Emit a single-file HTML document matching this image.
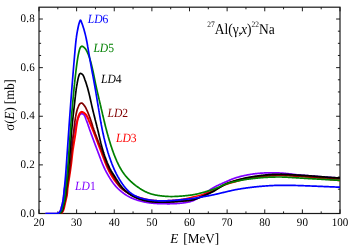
<!DOCTYPE html>
<html><head><meta charset="utf-8"><title>27Al(g,x)22Na cross section</title>
<style>
html,body{margin:0;padding:0;background:#fff;}
body{width:351px;height:249px;overflow:hidden;}
svg{display:block;font-family:"Liberation Serif",serif;will-change:transform;text-rendering:geometricPrecision;}
</style></head>
<body>
<svg width="351" height="249" viewBox="0 0 351 249">

<rect x="39" y="7.2" width="301" height="206.3" fill="none" stroke="#1a1a1a" stroke-width="1.2"/>
<g stroke="#111" stroke-width="0.95" fill="none"><path d="M39.00,213.5 v-4.1 M39.00,7.2 v4.1"/><path d="M57.81,213.5 v-2.1 M57.81,7.2 v2.1"/><path d="M76.62,213.5 v-4.1 M76.62,7.2 v4.1"/><path d="M95.44,213.5 v-2.1 M95.44,7.2 v2.1"/><path d="M114.25,213.5 v-4.1 M114.25,7.2 v4.1"/><path d="M133.06,213.5 v-2.1 M133.06,7.2 v2.1"/><path d="M151.88,213.5 v-4.1 M151.88,7.2 v4.1"/><path d="M170.69,213.5 v-2.1 M170.69,7.2 v2.1"/><path d="M189.50,213.5 v-4.1 M189.50,7.2 v4.1"/><path d="M208.31,213.5 v-2.1 M208.31,7.2 v2.1"/><path d="M227.12,213.5 v-4.1 M227.12,7.2 v4.1"/><path d="M245.94,213.5 v-2.1 M245.94,7.2 v2.1"/><path d="M264.75,213.5 v-4.1 M264.75,7.2 v4.1"/><path d="M283.56,213.5 v-2.1 M283.56,7.2 v2.1"/><path d="M302.38,213.5 v-4.1 M302.38,7.2 v4.1"/><path d="M321.19,213.5 v-2.1 M321.19,7.2 v2.1"/><path d="M340.00,213.5 v-4.1 M340.00,7.2 v4.1"/><path d="M39.0,213.50 h3.9 M340.0,213.50 h-3.9"/><path d="M39.0,201.34 h2.1 M340.0,201.34 h-2.1"/><path d="M39.0,189.19 h2.1 M340.0,189.19 h-2.1"/><path d="M39.0,177.03 h2.1 M340.0,177.03 h-2.1"/><path d="M39.0,164.88 h3.9 M340.0,164.88 h-3.9"/><path d="M39.0,152.72 h2.1 M340.0,152.72 h-2.1"/><path d="M39.0,140.57 h2.1 M340.0,140.57 h-2.1"/><path d="M39.0,128.41 h2.1 M340.0,128.41 h-2.1"/><path d="M39.0,116.26 h3.9 M340.0,116.26 h-3.9"/><path d="M39.0,104.11 h2.1 M340.0,104.11 h-2.1"/><path d="M39.0,91.95 h2.1 M340.0,91.95 h-2.1"/><path d="M39.0,79.79 h2.1 M340.0,79.79 h-2.1"/><path d="M39.0,67.64 h3.9 M340.0,67.64 h-3.9"/><path d="M39.0,55.48 h2.1 M340.0,55.48 h-2.1"/><path d="M39.0,43.33 h2.1 M340.0,43.33 h-2.1"/><path d="M39.0,31.18 h2.1 M340.0,31.18 h-2.1"/><path d="M39.0,19.02 h3.9 M340.0,19.02 h-3.9"/></g>
<clipPath id="c"><rect x="38" y="6" width="302" height="208.05"/></clipPath>
<g fill="none" stroke-width="1.7" stroke-linejoin="round" stroke-linecap="butt" clip-path="url(#c)">
<path d="M45.50,213.60 L46.00,213.60 L46.50,213.60 L47.01,213.60 L47.51,213.60 L48.01,213.60 L48.51,213.60 L49.01,213.60 L49.51,213.60 L50.01,213.60 L50.51,213.60 L51.01,213.60 L51.51,213.60 L52.01,213.60 L52.51,213.60 L53.01,213.60 L53.51,213.60 L54.00,213.60 L54.50,213.60 L55.00,213.60 L55.51,213.59 L56.03,213.55 L56.55,213.49 L57.04,213.41 L57.50,213.32 L57.92,213.19 L58.34,212.96 L58.75,212.64 L59.14,212.26 L59.50,211.84 L59.82,211.41 L60.10,210.98 L60.32,210.57 L60.51,210.14 L60.69,209.68 L60.85,209.20 L60.99,208.71 L61.13,208.21 L61.27,207.71 L61.40,207.22 L61.54,206.74 L61.68,206.26 L61.82,205.78 L61.95,205.30 L62.09,204.81 L62.23,204.33 L62.36,203.85 L62.48,203.36 L62.61,202.87 L62.72,202.39 L62.84,201.90 L62.94,201.41 L63.04,200.92 L63.13,200.43 L63.21,199.94 L63.28,199.45 L63.35,198.96 L63.42,198.46 L63.48,197.97 L63.53,197.47 L63.59,196.98 L63.64,196.48 L63.69,195.98 L63.73,195.48 L63.78,194.98 L63.83,194.48 L63.87,193.98 L63.92,193.48 L63.97,192.98 L64.01,192.49 L64.07,191.99 L64.12,191.49 L64.18,190.99 L64.24,190.50 L64.30,190.00 L64.37,189.51 L64.44,189.01 L64.51,188.52 L64.59,188.02 L64.67,187.53 L64.76,187.04 L64.84,186.55 L64.93,186.05 L65.01,185.56 L65.10,185.07 L65.19,184.58 L65.28,184.08 L65.37,183.59 L65.46,183.10 L65.55,182.61 L65.64,182.11 L65.73,181.62 L65.81,181.13 L65.90,180.64 L65.98,180.14 L66.06,179.65 L66.14,179.16 L66.22,178.66 L66.30,178.17 L66.38,177.67 L66.46,177.18 L66.54,176.69 L66.62,176.19 L66.70,175.70 L66.78,175.21 L66.86,174.71 L66.94,174.22 L67.02,173.73 L67.09,173.23 L67.17,172.74 L67.25,172.24 L67.33,171.75 L67.40,171.25 L67.48,170.76 L67.55,170.27 L67.63,169.77 L67.70,169.28 L67.77,168.78 L67.85,168.29 L67.92,167.79 L67.99,167.30 L68.06,166.80 L68.13,166.31 L68.19,165.81 L68.26,165.32 L68.32,164.82 L68.39,164.33 L68.45,163.83 L68.50,163.33 L68.56,162.84 L68.62,162.34 L68.67,161.84 L68.72,161.34 L68.78,160.84 L68.83,160.35 L68.88,159.85 L68.93,159.35 L68.98,158.85 L69.02,158.35 L69.07,157.85 L69.12,157.35 L69.17,156.86 L69.22,156.36 L69.27,155.86 L69.33,155.36 L69.38,154.87 L69.43,154.37 L69.49,153.87 L69.55,153.38 L69.61,152.88 L69.67,152.38 L69.73,151.89 L69.80,151.40 L69.87,150.90 L69.94,150.41 L70.01,149.92 L70.09,149.43 L70.17,148.94 L70.26,148.45 L70.36,147.96 L70.45,147.47 L70.55,146.98 L70.66,146.49 L70.76,146.00 L70.87,145.52 L70.99,145.03 L71.10,144.54 L71.22,144.06 L71.34,143.57 L71.46,143.08 L71.59,142.60 L71.71,142.11 L71.84,141.63 L71.96,141.14 L72.09,140.66 L72.21,140.17 L72.34,139.69 L72.47,139.20 L72.59,138.72 L72.72,138.23 L72.84,137.74 L72.96,137.26 L73.08,136.77 L73.20,136.29 L73.32,135.80 L73.43,135.31 L73.54,134.82 L73.65,134.33 L73.75,133.85 L73.86,133.35 L73.96,132.86 L74.06,132.37 L74.16,131.88 L74.25,131.39 L74.35,130.90 L74.45,130.41 L74.55,129.91 L74.65,129.42 L74.75,128.93 L74.86,128.44 L74.97,127.96 L75.08,127.47 L75.19,126.98 L75.31,126.50 L75.43,126.02 L75.55,125.53 L75.68,125.06 L75.82,124.58 L75.96,124.10 L76.11,123.62 L76.27,123.15 L76.43,122.67 L76.59,122.20 L76.76,121.73 L76.93,121.25 L77.11,120.78 L77.30,120.32 L77.48,119.85 L77.67,119.39 L77.87,118.93 L78.07,118.47 L78.27,118.01 L78.47,117.56 L78.68,117.09 L78.88,116.60 L79.10,116.11 L79.32,115.62 L79.57,115.18 L79.83,114.78 L80.14,114.45 L80.50,114.18 L80.97,113.92 L81.47,113.74 L81.95,113.71 L82.45,113.82 L82.96,114.02 L83.40,114.26 L83.74,114.51 L84.02,114.81 L84.29,115.16 L84.53,115.55 L84.76,115.99 L84.97,116.45 L85.17,116.95 L85.36,117.45 L85.54,117.97 L85.72,118.50 L85.90,119.02 L86.07,119.53 L86.25,120.02 L86.44,120.49 L86.62,120.96 L86.80,121.42 L86.98,121.89 L87.16,122.36 L87.33,122.83 L87.50,123.30 L87.66,123.77 L87.83,124.24 L87.99,124.71 L88.15,125.19 L88.31,125.66 L88.47,126.14 L88.63,126.61 L88.79,127.08 L88.95,127.56 L89.11,128.03 L89.27,128.51 L89.44,128.98 L89.60,129.45 L89.77,129.92 L89.94,130.39 L90.11,130.86 L90.28,131.33 L90.45,131.80 L90.62,132.27 L90.79,132.74 L90.96,133.21 L91.13,133.68 L91.30,134.15 L91.47,134.62 L91.65,135.09 L91.82,135.56 L91.99,136.03 L92.16,136.50 L92.33,136.97 L92.50,137.44 L92.67,137.91 L92.85,138.38 L93.02,138.85 L93.19,139.32 L93.36,139.79 L93.54,140.26 L93.71,140.73 L93.88,141.20 L94.06,141.67 L94.23,142.13 L94.41,142.60 L94.58,143.07 L94.75,143.54 L94.93,144.01 L95.10,144.48 L95.28,144.95 L95.46,145.41 L95.63,145.88 L95.81,146.35 L95.99,146.82 L96.16,147.28 L96.34,147.75 L96.52,148.22 L96.70,148.69 L96.88,149.15 L97.05,149.62 L97.23,150.09 L97.41,150.55 L97.59,151.02 L97.77,151.49 L97.94,151.96 L98.12,152.43 L98.29,152.90 L98.47,153.37 L98.65,153.83 L98.82,154.30 L99.00,154.77 L99.17,155.24 L99.35,155.71 L99.52,156.18 L99.70,156.65 L99.88,157.12 L100.05,157.59 L100.23,158.06 L100.41,158.53 L100.59,159.00 L100.76,159.47 L100.94,159.93 L101.12,160.40 L101.31,160.87 L101.49,161.33 L101.67,161.80 L101.86,162.26 L102.05,162.73 L102.23,163.19 L102.42,163.65 L102.61,164.12 L102.81,164.58 L103.00,165.04 L103.20,165.50 L103.39,165.95 L103.60,166.41 L103.80,166.87 L104.00,167.32 L104.21,167.77 L104.42,168.22 L104.63,168.67 L104.85,169.12 L105.07,169.57 L105.29,170.02 L105.52,170.46 L105.75,170.90 L105.98,171.35 L106.21,171.79 L106.45,172.23 L106.69,172.66 L106.93,173.10 L107.17,173.54 L107.42,173.97 L107.67,174.41 L107.92,174.84 L108.17,175.27 L108.42,175.71 L108.67,176.14 L108.92,176.57 L109.18,177.00 L109.44,177.43 L109.69,177.86 L109.95,178.29 L110.22,178.71 L110.48,179.14 L110.75,179.56 L111.02,179.98 L111.29,180.40 L111.57,180.81 L111.85,181.23 L112.13,181.64 L112.41,182.05 L112.70,182.46 L113.00,182.86 L113.30,183.26 L113.60,183.66 L113.90,184.05 L114.21,184.44 L114.53,184.83 L114.85,185.21 L115.17,185.59 L115.50,185.97 L115.83,186.34 L116.17,186.71 L116.51,187.08 L116.85,187.44 L117.20,187.79 L117.56,188.15 L117.91,188.50 L118.27,188.84 L118.64,189.18 L119.01,189.52 L119.38,189.86 L119.75,190.19 L120.13,190.52 L120.51,190.85 L120.89,191.17 L121.28,191.49 L121.67,191.81 L122.06,192.13 L122.45,192.44 L122.85,192.75 L123.25,193.05 L123.65,193.35 L124.05,193.65 L124.46,193.95 L124.87,194.23 L125.28,194.52 L125.69,194.80 L126.11,195.07 L126.53,195.34 L126.96,195.60 L127.38,195.86 L127.81,196.11 L128.24,196.35 L128.68,196.59 L129.11,196.82 L129.55,197.05 L130.00,197.27 L130.44,197.48 L130.89,197.70 L131.35,197.90 L131.80,198.10 L132.26,198.30 L132.72,198.49 L133.18,198.68 L133.65,198.86 L134.12,199.04 L134.59,199.22 L135.06,199.39 L135.53,199.56 L136.01,199.72 L136.48,199.88 L136.96,200.04 L137.44,200.19 L137.92,200.34 L138.40,200.49 L138.88,200.63 L139.36,200.76 L139.84,200.90 L140.32,201.03 L140.81,201.16 L141.29,201.28 L141.78,201.40 L142.26,201.52 L142.75,201.64 L143.24,201.75 L143.73,201.86 L144.21,201.96 L144.70,202.07 L145.19,202.17 L145.69,202.26 L146.18,202.35 L146.67,202.44 L147.16,202.53 L147.66,202.61 L148.15,202.68 L148.64,202.76 L149.14,202.83 L149.63,202.89 L150.13,202.95 L150.63,203.01 L151.12,203.07 L151.62,203.12 L152.12,203.17 L152.61,203.22 L153.11,203.27 L153.61,203.31 L154.11,203.35 L154.61,203.39 L155.10,203.43 L155.60,203.46 L156.10,203.49 L156.60,203.52 L157.10,203.55 L157.60,203.58 L158.10,203.60 L158.60,203.62 L159.10,203.64 L159.60,203.66 L160.10,203.67 L160.60,203.69 L161.10,203.70 L161.60,203.71 L162.10,203.72 L162.60,203.73 L163.10,203.74 L163.60,203.74 L164.10,203.75 L164.60,203.76 L165.10,203.76 L165.60,203.77 L166.10,203.77 L166.60,203.77 L167.10,203.78 L167.60,203.78 L168.10,203.78 L168.60,203.78 L169.10,203.78 L169.60,203.78 L170.10,203.77 L170.60,203.77 L171.10,203.76 L171.60,203.75 L172.10,203.74 L172.60,203.72 L173.10,203.71 L173.60,203.69 L174.10,203.67 L174.60,203.65 L175.10,203.62 L175.60,203.59 L176.09,203.56 L176.59,203.53 L177.09,203.50 L177.59,203.46 L178.09,203.42 L178.59,203.38 L179.09,203.34 L179.58,203.30 L180.08,203.25 L180.58,203.20 L181.08,203.15 L181.57,203.10 L182.07,203.04 L182.57,202.98 L183.07,202.92 L183.56,202.86 L184.06,202.79 L184.55,202.72 L185.05,202.64 L185.54,202.57 L186.04,202.49 L186.53,202.40 L187.02,202.32 L187.52,202.23 L188.01,202.13 L188.49,202.03 L188.98,201.92 L189.47,201.81 L189.95,201.69 L190.43,201.56 L190.91,201.42 L191.38,201.28 L191.85,201.13 L192.32,200.97 L192.79,200.80 L193.25,200.62 L193.71,200.43 L194.16,200.23 L194.62,200.03 L195.06,199.81 L195.51,199.59 L195.95,199.36 L196.39,199.13 L196.83,198.88 L197.26,198.64 L197.69,198.38 L198.12,198.13 L198.55,197.87 L198.97,197.60 L199.39,197.33 L199.81,197.06 L200.23,196.78 L200.64,196.50 L201.06,196.22 L201.47,195.94 L201.88,195.66 L202.29,195.37 L202.70,195.08 L203.11,194.79 L203.52,194.50 L203.92,194.21 L204.33,193.92 L204.73,193.62 L205.14,193.33 L205.54,193.03 L205.95,192.74 L206.35,192.45 L206.76,192.15 L207.16,191.86 L207.57,191.56 L207.97,191.27 L208.38,190.98 L208.79,190.69 L209.20,190.41 L209.61,190.12 L210.02,189.84 L210.43,189.56 L210.85,189.28 L211.27,189.01 L211.69,188.74 L212.11,188.48 L212.54,188.22 L212.96,187.96 L213.40,187.71 L213.83,187.47 L214.26,187.22 L214.70,186.99 L215.14,186.75 L215.59,186.52 L216.03,186.30 L216.48,186.07 L216.93,185.85 L217.38,185.64 L217.83,185.42 L218.28,185.21 L218.74,185.00 L219.19,184.79 L219.64,184.58 L220.10,184.37 L220.55,184.16 L221.01,183.95 L221.47,183.75 L221.92,183.54 L222.38,183.34 L222.84,183.13 L223.29,182.93 L223.75,182.73 L224.21,182.52 L224.66,182.32 L225.12,182.12 L225.58,181.92 L226.04,181.71 L226.49,181.51 L226.95,181.31 L227.41,181.11 L227.87,180.90 L228.33,180.70 L228.78,180.50 L229.24,180.30 L229.70,180.10 L230.16,179.91 L230.62,179.71 L231.08,179.52 L231.55,179.33 L232.01,179.15 L232.47,178.96 L232.94,178.79 L233.41,178.61 L233.88,178.44 L234.35,178.28 L234.82,178.11 L235.29,177.95 L235.76,177.80 L236.24,177.65 L236.72,177.50 L237.20,177.36 L237.68,177.22 L238.16,177.08 L238.64,176.95 L239.12,176.81 L239.60,176.69 L240.09,176.56 L240.57,176.44 L241.06,176.32 L241.55,176.20 L242.03,176.08 L242.52,175.97 L243.01,175.85 L243.49,175.74 L243.98,175.64 L244.47,175.53 L244.96,175.43 L245.45,175.32 L245.94,175.22 L246.43,175.12 L246.92,175.03 L247.41,174.93 L247.90,174.84 L248.40,174.75 L248.89,174.66 L249.38,174.57 L249.87,174.48 L250.37,174.40 L250.86,174.32 L251.35,174.24 L251.85,174.17 L252.34,174.09 L252.84,174.02 L253.33,173.95 L253.83,173.89 L254.32,173.82 L254.82,173.76 L255.32,173.70 L255.81,173.64 L256.31,173.59 L256.81,173.54 L257.30,173.49 L257.80,173.44 L258.30,173.39 L258.80,173.34 L259.29,173.30 L259.79,173.26 L260.29,173.22 L260.79,173.18 L261.29,173.14 L261.79,173.11 L262.29,173.07 L262.79,173.04 L263.28,173.01 L263.78,172.99 L264.28,172.96 L264.78,172.94 L265.28,172.92 L265.78,172.90 L266.28,172.88 L266.78,172.86 L267.28,172.85 L267.78,172.84 L268.28,172.82 L268.78,172.81 L269.28,172.81 L269.78,172.80 L270.28,172.79 L270.78,172.79 L271.28,172.78 L271.78,172.78 L272.28,172.78 L272.78,172.78 L273.28,172.79 L273.78,172.79 L274.28,172.80 L274.78,172.81 L275.28,172.82 L275.78,172.83 L276.28,172.84 L276.78,172.86 L277.28,172.87 L277.78,172.89 L278.28,172.91 L278.78,172.93 L279.28,172.95 L279.78,172.98 L280.27,173.00 L280.77,173.03 L281.27,173.06 L281.77,173.10 L282.27,173.13 L282.77,173.17 L283.27,173.21 L283.76,173.25 L284.26,173.30 L284.76,173.34 L285.26,173.39 L285.76,173.44 L286.25,173.49 L286.75,173.55 L287.25,173.60 L287.74,173.66 L288.24,173.71 L288.74,173.77 L289.24,173.83 L289.73,173.89 L290.23,173.95 L290.72,174.01 L291.22,174.07 L291.72,174.13 L292.21,174.19 L292.71,174.25 L293.21,174.31 L293.70,174.38 L294.20,174.44 L294.69,174.50 L295.19,174.56 L295.69,174.61 L296.18,174.67 L296.68,174.73 L297.18,174.78 L297.68,174.83 L298.17,174.88 L298.67,174.93 L299.17,174.98 L299.66,175.02 L300.16,175.07 L300.66,175.11 L301.16,175.15 L301.66,175.19 L302.16,175.23 L302.65,175.27 L303.15,175.31 L303.65,175.35 L304.15,175.39 L304.65,175.42 L305.15,175.46 L305.65,175.50 L306.14,175.54 L306.64,175.57 L307.14,175.61 L307.64,175.65 L308.14,175.69 L308.64,175.72 L309.14,175.76 L309.64,175.80 L310.13,175.84 L310.63,175.88 L311.13,175.92 L311.63,175.96 L312.13,176.00 L312.63,176.05 L313.12,176.09 L313.62,176.13 L314.12,176.17 L314.62,176.22 L315.12,176.26 L315.61,176.31 L316.11,176.35 L316.61,176.39 L317.11,176.44 L317.61,176.48 L318.11,176.53 L318.60,176.57 L319.10,176.61 L319.60,176.66 L320.10,176.70 L320.60,176.74 L321.09,176.78 L321.59,176.82 L322.09,176.86 L322.59,176.90 L323.09,176.94 L323.59,176.98 L324.08,177.02 L324.58,177.06 L325.08,177.09 L325.58,177.13 L326.08,177.17 L326.58,177.20 L327.08,177.24 L327.57,177.27 L328.07,177.31 L328.57,177.34 L329.07,177.37 L329.57,177.40 L330.07,177.44 L330.57,177.47 L331.07,177.50 L331.56,177.53 L332.06,177.56 L332.56,177.59 L333.05,177.62 L333.55,177.65 L334.04,177.68 L334.53,177.71 L335.02,177.74 L335.51,177.77 L336.00,177.79 L336.48,177.82 L336.97,177.85 L337.45,177.87 L337.95,177.90 L338.45,177.92 L338.96,177.95 L339.50,177.98 L340.00,178.00" stroke="#8000ff"/>
<path d="M61.30,213.30 L61.63,212.90 L61.94,212.50 L62.24,212.08 L62.53,211.67 L62.79,211.24 L63.03,210.81 L63.25,210.37 L63.43,209.92 L63.59,209.46 L63.74,208.99 L63.88,208.52 L64.00,208.03 L64.12,207.54 L64.23,207.05 L64.34,206.55 L64.45,206.06 L64.56,205.56 L64.67,205.07 L64.79,204.59 L64.90,204.10 L65.01,203.61 L65.12,203.12 L65.23,202.64 L65.33,202.15 L65.44,201.66 L65.54,201.17 L65.65,200.68 L65.76,200.19 L65.87,199.70 L65.98,199.22 L66.10,198.73 L66.22,198.24 L66.34,197.76 L66.46,197.27 L66.57,196.78 L66.67,196.29 L66.77,195.80 L66.85,195.31 L66.92,194.82 L66.99,194.33 L67.05,193.83 L67.10,193.33 L67.15,192.84 L67.20,192.34 L67.24,191.84 L67.28,191.34 L67.32,190.84 L67.37,190.34 L67.41,189.84 L67.46,189.34 L67.51,188.85 L67.56,188.35 L67.62,187.85 L67.68,187.36 L67.75,186.86 L67.81,186.37 L67.88,185.87 L67.96,185.38 L68.03,184.88 L68.11,184.39 L68.19,183.89 L68.27,183.40 L68.35,182.91 L68.42,182.41 L68.50,181.92 L68.58,181.42 L68.66,180.93 L68.73,180.44 L68.81,179.94 L68.88,179.45 L68.96,178.95 L69.03,178.46 L69.10,177.96 L69.18,177.47 L69.25,176.97 L69.33,176.48 L69.40,175.99 L69.48,175.49 L69.55,175.00 L69.63,174.50 L69.70,174.01 L69.78,173.51 L69.85,173.02 L69.93,172.52 L70.00,172.03 L70.07,171.54 L70.15,171.04 L70.22,170.55 L70.29,170.05 L70.37,169.56 L70.44,169.06 L70.51,168.57 L70.58,168.07 L70.65,167.58 L70.72,167.08 L70.79,166.59 L70.85,166.09 L70.92,165.60 L70.99,165.10 L71.05,164.60 L71.12,164.11 L71.18,163.61 L71.24,163.12 L71.30,162.62 L71.36,162.12 L71.42,161.63 L71.48,161.13 L71.53,160.63 L71.59,160.14 L71.65,159.64 L71.71,159.14 L71.76,158.65 L71.82,158.15 L71.87,157.65 L71.93,157.16 L71.99,156.66 L72.04,156.16 L72.10,155.66 L72.16,155.17 L72.21,154.67 L72.27,154.17 L72.33,153.68 L72.39,153.18 L72.45,152.69 L72.51,152.19 L72.58,151.69 L72.64,151.20 L72.71,150.70 L72.77,150.21 L72.84,149.71 L72.91,149.22 L72.98,148.72 L73.05,148.23 L73.13,147.73 L73.20,147.24 L73.28,146.75 L73.35,146.25 L73.43,145.76 L73.51,145.26 L73.59,144.77 L73.67,144.28 L73.75,143.78 L73.83,143.29 L73.91,142.80 L74.00,142.30 L74.08,141.81 L74.16,141.32 L74.24,140.82 L74.33,140.33 L74.41,139.84 L74.49,139.34 L74.57,138.85 L74.66,138.36 L74.74,137.86 L74.82,137.37 L74.90,136.88 L74.98,136.38 L75.06,135.89 L75.14,135.39 L75.22,134.90 L75.29,134.41 L75.37,133.91 L75.44,133.42 L75.51,132.92 L75.58,132.42 L75.65,131.93 L75.71,131.43 L75.78,130.93 L75.85,130.44 L75.91,129.94 L75.98,129.44 L76.05,128.94 L76.11,128.45 L76.18,127.95 L76.25,127.45 L76.32,126.96 L76.39,126.46 L76.46,125.97 L76.53,125.47 L76.61,124.98 L76.68,124.48 L76.76,123.99 L76.84,123.50 L76.92,123.00 L77.01,122.51 L77.10,122.02 L77.19,121.53 L77.28,121.05 L77.38,120.56 L77.48,120.07 L77.59,119.59 L77.70,119.10 L77.82,118.61 L77.95,118.12 L78.09,117.63 L78.23,117.15 L78.38,116.67 L78.54,116.20 L78.71,115.73 L78.89,115.27 L79.08,114.81 L79.29,114.34 L79.53,113.88 L79.79,113.43 L80.08,113.04 L80.40,112.71 L80.80,112.37 L81.26,112.08 L81.73,111.92 L82.18,111.93 L82.65,112.10 L83.11,112.36 L83.56,112.64 L83.97,112.91 L84.38,113.20 L84.78,113.52 L85.16,113.87 L85.52,114.23 L85.84,114.60 L86.14,114.98 L86.41,115.38 L86.67,115.79 L86.92,116.21 L87.15,116.65 L87.38,117.09 L87.60,117.55 L87.81,118.01 L88.02,118.48 L88.22,118.95 L88.42,119.42 L88.62,119.89 L88.82,120.36 L89.03,120.82 L89.23,121.27 L89.44,121.73 L89.65,122.19 L89.85,122.64 L90.05,123.10 L90.25,123.56 L90.44,124.02 L90.64,124.48 L90.83,124.94 L91.03,125.40 L91.22,125.86 L91.41,126.33 L91.60,126.79 L91.79,127.25 L91.98,127.72 L92.16,128.18 L92.35,128.64 L92.54,129.11 L92.73,129.57 L92.91,130.03 L93.10,130.50 L93.29,130.96 L93.47,131.43 L93.66,131.89 L93.84,132.35 L94.02,132.82 L94.21,133.29 L94.39,133.75 L94.57,134.22 L94.75,134.68 L94.93,135.15 L95.11,135.62 L95.29,136.08 L95.47,136.55 L95.65,137.02 L95.83,137.48 L96.01,137.95 L96.18,138.42 L96.36,138.88 L96.54,139.35 L96.72,139.82 L96.89,140.29 L97.07,140.75 L97.25,141.22 L97.43,141.69 L97.60,142.16 L97.78,142.63 L97.96,143.09 L98.13,143.56 L98.31,144.03 L98.49,144.50 L98.67,144.96 L98.84,145.43 L99.02,145.90 L99.20,146.37 L99.38,146.83 L99.56,147.30 L99.74,147.77 L99.92,148.23 L100.10,148.70 L100.28,149.17 L100.46,149.63 L100.64,150.10 L100.81,150.57 L100.99,151.03 L101.17,151.50 L101.35,151.97 L101.53,152.44 L101.70,152.91 L101.88,153.38 L102.05,153.85 L102.23,154.32 L102.40,154.79 L102.58,155.26 L102.75,155.73 L102.93,156.20 L103.10,156.67 L103.28,157.14 L103.45,157.61 L103.63,158.07 L103.80,158.54 L103.98,159.01 L104.16,159.48 L104.34,159.95 L104.51,160.42 L104.69,160.89 L104.87,161.35 L105.06,161.82 L105.24,162.28 L105.42,162.75 L105.61,163.21 L105.79,163.68 L105.98,164.14 L106.17,164.60 L106.36,165.06 L106.55,165.52 L106.75,165.98 L106.94,166.44 L107.14,166.90 L107.35,167.35 L107.55,167.81 L107.76,168.26 L107.97,168.71 L108.18,169.16 L108.39,169.61 L108.61,170.06 L108.84,170.51 L109.06,170.95 L109.29,171.40 L109.52,171.84 L109.76,172.28 L109.99,172.72 L110.23,173.15 L110.48,173.59 L110.72,174.03 L110.97,174.46 L111.22,174.89 L111.47,175.33 L111.73,175.76 L111.99,176.18 L112.25,176.61 L112.51,177.04 L112.78,177.46 L113.05,177.88 L113.32,178.30 L113.60,178.71 L113.88,179.12 L114.17,179.53 L114.46,179.94 L114.76,180.35 L115.05,180.75 L115.36,181.15 L115.66,181.54 L115.98,181.94 L116.29,182.33 L116.61,182.71 L116.93,183.10 L117.26,183.47 L117.59,183.85 L117.92,184.22 L118.26,184.59 L118.60,184.96 L118.95,185.32 L119.29,185.67 L119.64,186.03 L120.00,186.38 L120.36,186.72 L120.72,187.07 L121.09,187.41 L121.45,187.75 L121.83,188.08 L122.20,188.41 L122.58,188.74 L122.97,189.06 L123.36,189.38 L123.75,189.70 L124.14,190.02 L124.54,190.32 L124.94,190.63 L125.34,190.93 L125.75,191.22 L126.16,191.51 L126.57,191.79 L126.99,192.07 L127.41,192.34 L127.83,192.61 L128.25,192.86 L128.68,193.12" stroke="#ff0000" stroke-width="2.1"/>
<path d="M128.25,192.86 L128.68,193.12 L129.12,193.36 L129.55,193.60 L129.99,193.83 L130.43,194.05 L130.88,194.27 L131.33,194.48 L131.78,194.68 L132.23,194.88 L132.69,195.08 L133.15,195.26 L133.62,195.45 L134.08,195.63 L134.55,195.80 L135.02,195.97 L135.49,196.14 L135.97,196.31 L136.44,196.47 L136.92,196.63 L137.39,196.79 L137.87,196.94 L138.35,197.09 L138.82,197.24 L139.30,197.39 L139.78,197.53 L140.26,197.67 L140.74,197.81 L141.22,197.95 L141.71,198.08 L142.19,198.22 L142.67,198.35 L143.16,198.47 L143.64,198.60 L144.13,198.72 L144.61,198.84 L145.10,198.96 L145.58,199.07 L146.07,199.18 L146.56,199.28 L147.05,199.39 L147.54,199.49 L148.03,199.58 L148.52,199.67 L149.01,199.76 L149.50,199.84 L150.00,199.92 L150.49,199.99 L150.99,200.06 L151.48,200.12 L151.98,200.19 L152.47,200.25 L152.97,200.30 L153.47,200.35 L153.96,200.40 L154.46,200.45 L154.96,200.49 L155.46,200.53 L155.96,200.57 L156.46,200.60 L156.95,200.63 L157.45,200.66 L157.95,200.68 L158.45,200.70 L158.95,200.72 L159.45,200.73 L159.95,200.74 L160.45,200.75 L160.95,200.75 L161.45,200.75 L161.95,200.75 L162.45,200.75 L162.95,200.74 L163.45,200.74 L163.95,200.73 L164.45,200.72 L164.95,200.71 L165.45,200.69 L165.95,200.68 L166.45,200.66 L166.95,200.65 L167.45,200.63 L167.95,200.61 L168.45,200.59 L168.95,200.57 L169.45,200.54 L169.95,200.52 L170.45,200.49 L170.95,200.46 L171.44,200.43 L171.94,200.40 L172.44,200.36 L172.94,200.33 L173.44,200.29 L173.94,200.24 L174.43,200.20 L174.93,200.15 L175.43,200.11 L175.93,200.05 L176.42,200.00 L176.92,199.95 L177.42,199.89 L177.92,199.84 L178.41,199.78 L178.91,199.72 L179.41,199.66 L179.90,199.59 L180.40,199.53 L180.89,199.46 L181.39,199.40 L181.88,199.32 L182.38,199.25 L182.87,199.18 L183.36,199.10 L183.86,199.02 L184.35,198.93 L184.84,198.84 L185.33,198.75 L185.82,198.65 L186.31,198.55 L186.80,198.45 L187.29,198.35 L187.77,198.24 L188.26,198.12 L188.75,198.01 L189.24,197.90 L189.72,197.78 L190.21,197.66 L190.69,197.54 L191.18,197.43 L191.67,197.31 L192.15,197.19 L192.64,197.07 L193.13,196.96 L193.61,196.84 L194.10,196.73 L194.59,196.61 L195.07,196.49 L195.56,196.38 L196.05,196.26 L196.53,196.14 L197.02,196.02 L197.50,195.90 L197.99,195.78 L198.47,195.65 L198.95,195.52 L199.43,195.39 L199.92,195.26 L200.40,195.13 L200.88,194.99 L201.36,194.85 L201.83,194.70 L202.31,194.56 L202.79,194.41 L203.27,194.26 L203.74,194.10 L204.22,193.94 L204.69,193.78 L205.16,193.62 L205.64,193.46 L206.11,193.29 L206.58,193.12 L207.05,192.95 L207.52,192.77 L207.99,192.60 L208.46,192.42 L208.92,192.23 L209.39,192.05 L209.85,191.86 L210.31,191.68 L210.78,191.48 L211.24,191.29 L211.69,191.09 L212.15,190.89 L212.61,190.69 L213.06,190.48 L213.51,190.27 L213.97,190.06 L214.42,189.84 L214.87,189.63 L215.31,189.40 L215.76,189.18 L216.21,188.96 L216.65,188.73 L217.10,188.51 L217.55,188.28 L217.99,188.06 L218.44,187.83 L218.89,187.61 L219.34,187.39 L219.79,187.17 L220.24,186.96 L220.69,186.75 L221.15,186.54 L221.60,186.33 L222.06,186.13 L222.52,185.93 L222.98,185.73 L223.44,185.54 L223.90,185.35 L224.36,185.16 L224.83,184.98 L225.30,184.81 L225.76,184.63 L226.23,184.47 L226.71,184.30 L227.18,184.14 L227.65,183.99 L228.13,183.84 L228.61,183.69 L229.08,183.55 L229.56,183.40 L230.04,183.27 L230.52,183.13 L231.00,182.99 L231.49,182.86 L231.97,182.73 L232.45,182.60 L232.93,182.46 L233.42,182.33 L233.90,182.20 L234.38,182.06 L234.86,181.93 L235.34,181.79 L235.83,181.66 L236.31,181.52 L236.79,181.38 L237.27,181.25 L237.75,181.11 L238.23,180.97 L238.71,180.83 L239.20,180.70 L239.68,180.56 L240.16,180.43 L240.64,180.30 L241.12,180.17 L241.61,180.04 L242.09,179.92 L242.57,179.80 L243.06,179.68 L243.55,179.56 L244.03,179.45 L244.52,179.34 L245.01,179.23 L245.49,179.12 L245.98,179.02 L246.47,178.91 L246.96,178.81 L247.45,178.71 L247.94,178.62 L248.43,178.52 L248.92,178.43 L249.41,178.34 L249.91,178.25 L250.40,178.16 L250.89,178.08 L251.39,177.99 L251.88,177.91 L252.37,177.83 L252.87,177.75 L253.36,177.67 L253.85,177.59 L254.35,177.52 L254.84,177.44 L255.34,177.37 L255.83,177.30 L256.33,177.23 L256.82,177.16 L257.32,177.09 L257.81,177.02 L258.31,176.96 L258.81,176.89 L259.30,176.83 L259.80,176.77 L260.29,176.71 L260.79,176.65 L261.29,176.59 L261.79,176.54 L262.28,176.49 L262.78,176.43 L263.28,176.38 L263.77,176.34 L264.27,176.29 L264.77,176.25 L265.27,176.20 L265.77,176.16 L266.26,176.12 L266.76,176.08 L267.26,176.04 L267.76,176.01 L268.26,175.97 L268.76,175.94 L269.26,175.90 L269.76,175.87 L270.26,175.84 L270.75,175.81 L271.25,175.79 L271.75,175.76 L272.25,175.74 L272.75,175.72 L273.25,175.70 L273.75,175.68 L274.25,175.67 L274.75,175.65 L275.25,175.64 L275.75,175.63 L276.25,175.63 L276.75,175.62 L277.25,175.62 L277.75,175.61 L278.25,175.61 L278.75,175.61 L279.25,175.60 L279.75,175.60 L280.25,175.60 L280.75,175.60 L281.25,175.60 L281.75,175.61 L282.25,175.61 L282.75,175.61 L283.25,175.61 L283.75,175.62 L284.25,175.63 L284.75,175.64 L285.25,175.65 L285.75,175.66 L286.25,175.67 L286.75,175.69 L287.25,175.71 L287.75,175.73 L288.24,175.75 L288.74,175.78 L289.24,175.81 L289.74,175.84 L290.24,175.87 L290.74,175.91 L291.24,175.94 L291.74,175.98 L292.24,176.02 L292.73,176.06 L293.23,176.10 L293.73,176.13 L294.23,176.17 L294.73,176.21 L295.23,176.25 L295.73,176.29 L296.23,176.32 L296.73,176.36 L297.22,176.40 L297.72,176.43 L298.22,176.46 L298.72,176.50 L299.22,176.53 L299.72,176.56 L300.22,176.59 L300.72,176.62 L301.22,176.65 L301.72,176.68 L302.22,176.71 L302.72,176.74 L303.21,176.78 L303.71,176.81 L304.21,176.84 L304.71,176.87 L305.21,176.90 L305.71,176.93 L306.21,176.96 L306.71,177.00 L307.21,177.03 L307.70,177.07 L308.20,177.10 L308.70,177.14 L309.20,177.18 L309.70,177.22 L310.20,177.26 L310.69,177.30 L311.19,177.35 L311.69,177.39 L312.19,177.44 L312.68,177.49 L313.18,177.54 L313.68,177.59 L314.17,177.65 L314.67,177.70 L315.17,177.76 L315.66,177.82 L316.16,177.88 L316.66,177.94 L317.15,178.00 L317.65,178.06 L318.15,178.12 L318.64,178.18 L319.14,178.25 L319.63,178.31 L320.13,178.37 L320.63,178.44 L321.12,178.50 L321.62,178.57 L322.11,178.63 L322.61,178.69 L323.11,178.75 L323.60,178.82 L324.10,178.88 L324.60,178.94 L325.09,179.00 L325.59,179.06 L326.09,179.12 L326.58,179.18 L327.08,179.24 L327.58,179.30 L328.07,179.35 L328.57,179.41 L329.06,179.47 L329.56,179.53 L330.06,179.58 L330.55,179.64 L331.05,179.70 L331.55,179.75 L332.04,179.81 L332.54,179.87 L333.03,179.92 L333.52,179.98 L334.01,180.03 L334.50,180.09 L334.99,180.14 L335.47,180.20 L335.95,180.25 L336.43,180.31 L336.91,180.36 L337.39,180.41 L337.88,180.47 L338.37,180.52 L338.87,180.58 L339.39,180.63 L339.93,180.69 L340.00,180.70" stroke="#ff0000" stroke-width="1.5"/>
<path d="M60.80,213.30 L61.13,212.90 L61.44,212.50 L61.74,212.08 L62.03,211.67 L62.29,211.24 L62.53,210.81 L62.75,210.37 L62.93,209.92 L63.09,209.46 L63.24,208.99 L63.38,208.52 L63.50,208.03 L63.62,207.54 L63.73,207.05 L63.84,206.55 L63.95,206.06 L64.06,205.56 L64.17,205.07 L64.28,204.59 L64.40,204.10 L64.51,203.61 L64.61,203.12 L64.72,202.63 L64.83,202.15 L64.93,201.66 L65.04,201.17 L65.15,200.68 L65.26,200.19 L65.37,199.70 L65.49,199.22 L65.62,198.73 L65.75,198.25 L65.88,197.77 L66.01,197.28 L66.14,196.80 L66.25,196.31 L66.36,195.82 L66.45,195.33 L66.52,194.84 L66.59,194.35 L66.65,193.85 L66.70,193.36 L66.75,192.86 L66.80,192.36 L66.84,191.86 L66.88,191.36 L66.92,190.86 L66.97,190.37 L67.01,189.87 L67.06,189.37 L67.10,188.87 L67.16,188.37 L67.22,187.87 L67.28,187.38 L67.34,186.88 L67.41,186.39 L67.49,185.89 L67.56,185.40 L67.64,184.91 L67.72,184.41 L67.79,183.92 L67.87,183.42 L67.95,182.93 L68.03,182.44 L68.11,181.94 L68.19,181.45 L68.26,180.95 L68.34,180.46 L68.41,179.96 L68.47,179.47 L68.54,178.97 L68.61,178.48 L68.68,177.98 L68.75,177.49 L68.81,176.99 L68.88,176.50 L68.95,176.00 L69.01,175.50 L69.08,175.01 L69.15,174.51 L69.21,174.02 L69.28,173.52 L69.34,173.03 L69.40,172.53 L69.47,172.03 L69.53,171.54 L69.59,171.04 L69.66,170.55 L69.72,170.05 L69.78,169.55 L69.84,169.06 L69.90,168.56 L69.96,168.06 L70.01,167.57 L70.07,167.07 L70.13,166.57 L70.18,166.08 L70.24,165.58 L70.29,165.08 L70.34,164.59 L70.40,164.09 L70.45,163.59 L70.50,163.09 L70.55,162.60 L70.59,162.10 L70.64,161.60 L70.69,161.10 L70.74,160.61 L70.78,160.11 L70.83,159.61 L70.87,159.11 L70.92,158.61 L70.96,158.12 L71.00,157.62 L71.05,157.12 L71.09,156.62 L71.14,156.12 L71.18,155.62 L71.22,155.13 L71.27,154.63 L71.31,154.13 L71.36,153.63 L71.40,153.13 L71.45,152.64 L71.49,152.14 L71.54,151.64 L71.59,151.14 L71.64,150.65 L71.69,150.15 L71.73,149.65 L71.78,149.15 L71.83,148.66 L71.89,148.16 L71.94,147.66 L71.99,147.16 L72.04,146.67 L72.09,146.17 L72.14,145.67 L72.19,145.17 L72.24,144.68 L72.30,144.18 L72.35,143.68 L72.40,143.18 L72.45,142.69 L72.51,142.19 L72.56,141.69 L72.62,141.20 L72.67,140.70 L72.72,140.20 L72.78,139.70 L72.83,139.21 L72.89,138.71 L72.94,138.21 L73.00,137.72 L73.05,137.22 L73.11,136.72 L73.16,136.23 L73.22,135.73 L73.27,135.23 L73.33,134.74 L73.39,134.24 L73.44,133.74 L73.50,133.24 L73.55,132.75 L73.60,132.25 L73.66,131.75 L73.71,131.25 L73.77,130.76 L73.82,130.26 L73.88,129.76 L73.93,129.26 L73.99,128.77 L74.04,128.27 L74.10,127.77 L74.15,127.28 L74.21,126.78 L74.27,126.28 L74.33,125.79 L74.39,125.29 L74.45,124.79 L74.51,124.30 L74.57,123.80 L74.64,123.30 L74.70,122.81 L74.77,122.31 L74.84,121.82 L74.91,121.32 L74.98,120.83 L75.05,120.34 L75.12,119.84 L75.20,119.35 L75.28,118.86 L75.36,118.36 L75.44,117.87 L75.52,117.37 L75.61,116.88 L75.69,116.38 L75.79,115.89 L75.88,115.40 L75.97,114.91 L76.07,114.42 L76.17,113.93 L76.28,113.44 L76.38,112.95 L76.50,112.46 L76.61,111.98 L76.73,111.49 L76.85,111.01 L76.98,110.53 L77.11,110.05 L77.26,109.57 L77.41,109.09 L77.57,108.61 L77.74,108.14 L77.91,107.67 L78.09,107.20 L78.28,106.74 L78.48,106.28 L78.68,105.79 L78.89,105.31 L79.12,104.85 L79.38,104.42 L79.66,104.05 L79.99,103.72 L80.43,103.39 L80.90,103.13 L81.35,103.00 L81.76,103.06 L82.16,103.24 L82.56,103.52 L82.95,103.89 L83.33,104.30 L83.70,104.74 L84.04,105.19 L84.36,105.61 L84.65,106.00 L84.93,106.40 L85.19,106.82 L85.44,107.25 L85.69,107.70 L85.92,108.15 L86.14,108.61 L86.36,109.07 L86.58,109.52 L86.79,109.98 L87.00,110.43 L87.21,110.88 L87.41,111.34 L87.60,111.80 L87.80,112.26 L87.99,112.72 L88.18,113.18 L88.36,113.65 L88.55,114.11 L88.73,114.58 L88.91,115.05 L89.08,115.52 L89.26,115.99 L89.43,116.46 L89.61,116.93 L89.78,117.40 L89.95,117.87 L90.12,118.34 L90.29,118.81 L90.46,119.28 L90.62,119.75 L90.78,120.22 L90.94,120.70 L91.10,121.17 L91.26,121.65 L91.41,122.12 L91.57,122.60 L91.72,123.07 L91.87,123.55 L92.03,124.03 L92.18,124.50 L92.33,124.98 L92.48,125.45 L92.64,125.93 L92.79,126.41 L92.95,126.88 L93.10,127.36 L93.26,127.83 L93.42,128.31 L93.58,128.78 L93.74,129.25 L93.90,129.73 L94.07,130.20 L94.24,130.67 L94.41,131.14 L94.57,131.61 L94.74,132.08 L94.92,132.55 L95.09,133.02 L95.26,133.49 L95.43,133.96 L95.61,134.42 L95.78,134.89 L95.96,135.36 L96.13,135.83 L96.31,136.30 L96.49,136.76 L96.67,137.23 L96.84,137.70 L97.02,138.17 L97.20,138.63 L97.38,139.10 L97.56,139.57 L97.74,140.03 L97.92,140.50 L98.10,140.97 L98.28,141.43 L98.46,141.90 L98.64,142.36 L98.82,142.83 L99.01,143.30 L99.19,143.76 L99.37,144.23 L99.55,144.70 L99.73,145.16 L99.91,145.63 L100.09,146.09 L100.27,146.56 L100.45,147.03 L100.63,147.49 L100.81,147.96 L100.99,148.43 L101.17,148.90 L101.35,149.36 L101.52,149.83 L101.70,150.30 L101.87,150.77 L102.05,151.24 L102.22,151.71 L102.39,152.18 L102.56,152.66 L102.73,153.13 L102.90,153.60 L103.07,154.08 L103.24,154.55 L103.41,155.02 L103.58,155.50 L103.74,155.97 L103.91,156.45 L104.08,156.92 L104.25,157.40 L104.41,157.87 L104.58,158.35 L104.75,158.82 L104.92,159.30 L105.09,159.77 L105.26,160.24 L105.43,160.71 L105.61,161.18 L105.78,161.65 L105.96,162.12 L106.14,162.59 L106.32,163.06 L106.50,163.52 L106.68,163.99 L106.87,164.45 L107.06,164.91 L107.25,165.37 L107.44,165.83 L107.64,166.28 L107.84,166.73 L108.04,167.19 L108.25,167.63 L108.47,168.08 L108.68,168.52 L108.91,168.97 L109.13,169.40 L109.37,169.84 L109.60,170.27 L109.85,170.70 L110.10,171.13 L110.35,171.56 L110.61,171.98 L110.88,172.40 L111.14,172.82 L111.41,173.24 L111.69,173.66 L111.96,174.08 L112.24,174.50 L112.51,174.92 L112.79,175.33 L113.06,175.75 L113.33,176.18 L113.60,176.60 L113.86,177.03 L114.12,177.46 L114.37,177.89 L114.62,178.32 L114.87,178.76 L115.11,179.20 L115.35,179.63 L115.59,180.07 L115.82,180.51 L116.06,180.95 L116.30,181.39 L116.54,181.83 L116.79,182.26 L117.04,182.69 L117.29,183.12 L117.55,183.54 L117.82,183.96 L118.10,184.37 L118.39,184.77 L118.68,185.17 L118.98,185.57 L119.29,185.95 L119.61,186.34 L119.94,186.71 L120.27,187.08 L120.61,187.44 L120.96,187.79 L121.31,188.14 L121.67,188.48 L122.04,188.82 L122.41,189.14 L122.79,189.46 L123.18,189.78 L123.57,190.09 L123.96,190.39 L124.36,190.69 L124.76,190.98 L125.17,191.27 L125.59,191.55 L126.00,191.83 L126.42,192.10 L126.84,192.37 L127.27,192.64 L127.70,192.91 L128.12,193.17 L128.56,193.42 L128.99,193.68 L129.42,193.93 L129.86,194.18 L130.29,194.43 L130.73,194.68 L131.17,194.92 L131.61,195.17 L132.05,195.41 L132.49,195.64 L132.94,195.88 L133.38,196.11 L133.83,196.34 L134.28,196.57 L134.73,196.79 L135.18,197.01 L135.63,197.22 L136.09,197.43 L136.54,197.64 L137.00,197.84 L137.46,198.03 L137.92,198.22 L138.38,198.40 L138.85,198.58 L139.31,198.75 L139.78,198.92 L140.25,199.08 L140.73,199.23 L141.20,199.39 L141.68,199.53 L142.15,199.67 L142.63,199.81 L143.11,199.94 L143.60,200.07 L144.08,200.20 L144.57,200.32 L145.06,200.43 L145.54,200.54 L146.03,200.65 L146.52,200.75 L147.01,200.84 L147.51,200.94 L148.00,201.02 L148.49,201.10 L148.99,201.18 L149.48,201.26 L149.98,201.32 L150.47,201.39 L150.97,201.45 L151.46,201.51 L151.96,201.56 L152.46,201.62 L152.95,201.66 L153.45,201.71 L153.95,201.75 L154.45,201.79 L154.95,201.83 L155.44,201.87 L155.94,201.90 L156.44,201.93 L156.94,201.95 L157.44,201.98 L157.94,202.00 L158.44,202.01 L158.94,202.03 L159.44,202.04 L159.94,202.05 L160.44,202.05 L160.94,202.05 L161.44,202.05 L161.94,202.05 L162.44,202.05 L162.94,202.04 L163.44,202.04 L163.94,202.03 L164.44,202.02 L164.94,202.00 L165.44,201.99 L165.94,201.98 L166.44,201.96 L166.94,201.94 L167.44,201.93 L167.94,201.91 L168.44,201.89 L168.94,201.87 L169.44,201.85 L169.94,201.82 L170.44,201.80 L170.94,201.78 L171.44,201.75 L171.94,201.72 L172.44,201.69 L172.93,201.66 L173.43,201.63 L173.93,201.59 L174.43,201.56 L174.93,201.52 L175.43,201.48 L175.93,201.45 L176.43,201.41 L176.92,201.37 L177.42,201.32 L177.92,201.28 L178.42,201.24 L178.92,201.20 L179.42,201.16 L179.92,201.12 L180.42,201.08 L180.92,201.04 L181.42,201.00 L181.92,200.96 L182.42,200.92 L182.92,200.88 L183.42,200.84 L183.92,200.80 L184.42,200.76 L184.92,200.72 L185.42,200.68 L185.92,200.63 L186.42,200.59 L186.92,200.54 L187.41,200.49 L187.91,200.44 L188.41,200.38 L188.90,200.32 L189.39,200.26 L189.88,200.19 L190.37,200.12 L190.86,200.04 L191.35,199.96 L191.83,199.86 L192.32,199.76 L192.80,199.65 L193.28,199.54 L193.76,199.41 L194.24,199.28 L194.72,199.14 L195.19,198.99 L195.66,198.84 L196.14,198.68 L196.61,198.51 L197.08,198.34 L197.55,198.16 L198.02,197.98 L198.48,197.80 L198.95,197.61 L199.41,197.42 L199.88,197.23 L200.34,197.04 L200.81,196.85 L201.27,196.65 L201.73,196.46 L202.19,196.26 L202.65,196.07 L203.11,195.87 L203.57,195.67 L204.03,195.47 L204.49,195.27 L204.95,195.07 L205.41,194.87 L205.87,194.67 L206.33,194.48 L206.79,194.28 L207.24,194.08 L207.70,193.87 L208.16,193.67 L208.62,193.47 L209.08,193.27 L209.53,193.06 L209.99,192.85 L210.44,192.64 L210.89,192.43 L211.34,192.21 L211.78,191.99 L212.23,191.76 L212.67,191.53 L213.11,191.30 L213.54,191.06 L213.98,190.81 L214.41,190.56 L214.84,190.31 L215.26,190.05 L215.69,189.79 L216.11,189.53 L216.54,189.26 L216.96,188.99 L217.38,188.72 L217.80,188.45 L218.22,188.19 L218.65,187.92 L219.07,187.65 L219.49,187.39 L219.92,187.12 L220.35,186.86 L220.77,186.60 L221.20,186.35 L221.64,186.09 L222.07,185.84 L222.50,185.60 L222.94,185.35 L223.38,185.11 L223.82,184.88 L224.26,184.65 L224.70,184.42 L225.15,184.20 L225.60,183.99 L226.05,183.78 L226.50,183.57 L226.96,183.37 L227.42,183.18 L227.88,182.99 L228.34,182.81 L228.80,182.63 L229.27,182.46 L229.74,182.29 L230.21,182.13 L230.68,181.97 L231.15,181.81 L231.63,181.66 L232.11,181.50 L232.59,181.36 L233.06,181.21 L233.55,181.07 L234.03,180.93 L234.51,180.80 L234.99,180.66 L235.48,180.53 L235.97,180.40 L236.45,180.28 L236.94,180.15 L237.43,180.03 L237.92,179.91 L238.40,179.80 L238.89,179.68 L239.38,179.57 L239.87,179.46 L240.36,179.36 L240.85,179.25 L241.34,179.15 L241.83,179.05 L242.32,178.96 L242.82,178.86 L243.31,178.77 L243.80,178.68 L244.29,178.59 L244.78,178.51 L245.28,178.43 L245.77,178.35 L246.26,178.27 L246.76,178.19 L247.25,178.12 L247.74,178.05 L248.24,177.98 L248.73,177.91 L249.23,177.84 L249.72,177.77 L250.22,177.71 L250.72,177.64 L251.21,177.58 L251.71,177.51 L252.21,177.45 L252.70,177.38 L253.20,177.32 L253.70,177.26 L254.19,177.20 L254.69,177.13 L255.19,177.07 L255.68,177.01 L256.18,176.94 L256.67,176.88 L257.17,176.82 L257.67,176.75 L258.16,176.69 L258.66,176.63 L259.16,176.57 L259.65,176.51 L260.15,176.45 L260.65,176.39 L261.14,176.33 L261.64,176.27 L262.14,176.22 L262.63,176.16 L263.13,176.11 L263.63,176.06 L264.12,176.01 L264.62,175.96 L265.12,175.91 L265.62,175.87 L266.11,175.82 L266.61,175.78 L267.11,175.74 L267.61,175.70 L268.11,175.66 L268.61,175.62 L269.11,175.58 L269.60,175.55 L270.10,175.51 L270.60,175.48 L271.10,175.45 L271.60,175.42 L272.10,175.39 L272.60,175.36 L273.10,175.34 L273.60,175.32 L274.10,175.29 L274.60,175.27 L275.10,175.26 L275.60,175.24 L276.10,175.22 L276.60,175.21 L277.10,175.20 L277.59,175.19 L278.09,175.18 L278.59,175.17 L279.09,175.16 L279.59,175.15 L280.09,175.15 L280.59,175.14 L281.09,175.14 L281.59,175.13 L282.09,175.13 L282.59,175.13 L283.09,175.13 L283.59,175.13 L284.09,175.13 L284.59,175.14 L285.09,175.15 L285.59,175.16 L286.09,175.17 L286.59,175.19 L287.09,175.20 L287.59,175.22 L288.09,175.25 L288.59,175.27 L289.09,175.30 L289.59,175.33 L290.08,175.36 L290.58,175.40 L291.08,175.43 L291.58,175.47 L292.08,175.51 L292.58,175.54 L293.08,175.58 L293.58,175.62 L294.07,175.66 L294.57,175.70 L295.07,175.74 L295.57,175.78 L296.07,175.81 L296.57,175.85 L297.07,175.89 L297.57,175.92 L298.07,175.96 L298.56,175.99 L299.06,176.03 L299.56,176.06 L300.06,176.09 L300.56,176.12 L301.06,176.16 L301.56,176.19 L302.06,176.22 L302.56,176.25 L303.06,176.28 L303.55,176.31 L304.05,176.35 L304.55,176.38 L305.05,176.41 L305.55,176.44 L306.05,176.47 L306.55,176.51 L307.05,176.54 L307.55,176.57 L308.05,176.60 L308.54,176.64 L309.04,176.67 L309.54,176.71 L310.04,176.74 L310.54,176.78 L311.04,176.81 L311.54,176.85 L312.04,176.88 L312.53,176.92 L313.03,176.96 L313.53,176.99 L314.03,177.03 L314.53,177.07 L315.03,177.11 L315.53,177.15 L316.02,177.19 L316.52,177.23 L317.02,177.26 L317.52,177.30 L318.02,177.34 L318.52,177.38 L319.01,177.42 L319.51,177.46 L320.01,177.50 L320.51,177.54 L321.01,177.58 L321.51,177.62 L322.00,177.66 L322.50,177.70 L323.00,177.74 L323.50,177.78 L324.00,177.82 L324.50,177.86 L325.00,177.90 L325.49,177.93 L325.99,177.97 L326.49,178.01 L326.99,178.05 L327.49,178.09 L327.99,178.12 L328.49,178.16 L328.98,178.20 L329.48,178.24 L329.98,178.27 L330.48,178.31 L330.98,178.35 L331.48,178.38 L331.97,178.42 L332.47,178.46 L332.97,178.49 L333.46,178.53 L333.95,178.56 L334.44,178.60 L334.93,178.64 L335.42,178.67 L335.90,178.71 L336.38,178.74 L336.86,178.78 L337.35,178.81 L337.83,178.85 L338.32,178.88 L338.83,178.92 L339.35,178.95 L339.89,178.99 L340.00,179.00" stroke="#800000"/>
<path d="M60.00,213.30 L60.37,212.93 L60.72,212.55 L61.05,212.16 L61.37,211.76 L61.65,211.35 L61.89,210.93 L62.10,210.50 L62.27,210.06 L62.43,209.60 L62.57,209.12 L62.70,208.64 L62.81,208.15 L62.93,207.65 L63.04,207.15 L63.14,206.65 L63.25,206.15 L63.37,205.66 L63.49,205.18 L63.61,204.69 L63.73,204.21 L63.86,203.72 L63.98,203.24 L64.11,202.75 L64.22,202.26 L64.34,201.78 L64.45,201.29 L64.55,200.80 L64.64,200.31 L64.73,199.82 L64.81,199.33 L64.89,198.84 L64.97,198.34 L65.04,197.85 L65.11,197.36 L65.17,196.86 L65.24,196.36 L65.30,195.87 L65.36,195.37 L65.42,194.87 L65.48,194.38 L65.54,193.88 L65.60,193.38 L65.66,192.88 L65.72,192.39 L65.77,191.89 L65.83,191.39 L65.89,190.90 L65.95,190.40 L66.01,189.90 L66.07,189.41 L66.14,188.91 L66.20,188.41 L66.26,187.92 L66.32,187.42 L66.38,186.93 L66.44,186.43 L66.50,185.93 L66.56,185.44 L66.62,184.94 L66.68,184.44 L66.74,183.95 L66.79,183.45 L66.85,182.95 L66.91,182.46 L66.97,181.96 L67.03,181.46 L67.09,180.97 L67.14,180.47 L67.20,179.97 L67.26,179.48 L67.32,178.98 L67.38,178.48 L67.44,177.99 L67.49,177.49 L67.55,176.99 L67.61,176.50 L67.67,176.00 L67.73,175.50 L67.79,175.01 L67.84,174.51 L67.90,174.01 L67.96,173.52 L68.02,173.02 L68.07,172.52 L68.13,172.03 L68.19,171.53 L68.24,171.03 L68.30,170.54 L68.36,170.04 L68.41,169.54 L68.47,169.05 L68.52,168.55 L68.58,168.05 L68.63,167.56 L68.68,167.06 L68.74,166.56 L68.79,166.06 L68.84,165.57 L68.89,165.07 L68.94,164.57 L68.99,164.07 L69.05,163.58 L69.10,163.08 L69.15,162.58 L69.20,162.08 L69.25,161.59 L69.30,161.09 L69.35,160.59 L69.39,160.09 L69.44,159.60 L69.49,159.10 L69.54,158.60 L69.59,158.10 L69.64,157.61 L69.68,157.11 L69.73,156.61 L69.78,156.11 L69.82,155.61 L69.87,155.12 L69.91,154.62 L69.96,154.12 L70.00,153.62 L70.04,153.12 L70.09,152.63 L70.13,152.13 L70.17,151.63 L70.21,151.13 L70.25,150.63 L70.29,150.13 L70.33,149.64 L70.37,149.14 L70.40,148.64 L70.44,148.14 L70.47,147.64 L70.51,147.14 L70.54,146.64 L70.57,146.15 L70.60,145.65 L70.64,145.15 L70.67,144.65 L70.70,144.15 L70.73,143.65 L70.76,143.15 L70.79,142.65 L70.82,142.15 L70.85,141.65 L70.88,141.15 L70.91,140.65 L70.94,140.16 L70.98,139.66 L71.01,139.16 L71.04,138.66 L71.07,138.16 L71.11,137.66 L71.14,137.16 L71.18,136.66 L71.21,136.16 L71.25,135.67 L71.29,135.17 L71.33,134.67 L71.37,134.17 L71.41,133.67 L71.45,133.17 L71.49,132.68 L71.53,132.18 L71.57,131.68 L71.62,131.18 L71.66,130.68 L71.71,130.19 L71.75,129.69 L71.80,129.19 L71.84,128.69 L71.89,128.19 L71.94,127.70 L71.98,127.20 L72.03,126.70 L72.08,126.20 L72.13,125.71 L72.18,125.21 L72.23,124.71 L72.28,124.21 L72.33,123.71 L72.38,123.22 L72.42,122.72 L72.48,122.22 L72.53,121.72 L72.58,121.23 L72.63,120.73 L72.68,120.23 L72.73,119.73 L72.78,119.24 L72.83,118.74 L72.88,118.24 L72.93,117.75 L72.99,117.25 L73.04,116.75 L73.09,116.25 L73.15,115.76 L73.20,115.26 L73.26,114.76 L73.31,114.27 L73.37,113.77 L73.42,113.27 L73.48,112.78 L73.54,112.28 L73.59,111.78 L73.65,111.29 L73.71,110.79 L73.76,110.29 L73.82,109.79 L73.88,109.30 L73.93,108.80 L73.99,108.30 L74.05,107.81 L74.11,107.31 L74.16,106.81 L74.22,106.32 L74.28,105.82 L74.33,105.32 L74.39,104.83 L74.45,104.33 L74.50,103.83 L74.56,103.34 L74.62,102.84 L74.67,102.34 L74.73,101.85 L74.78,101.35 L74.84,100.85 L74.89,100.36 L74.95,99.86 L75.00,99.36 L75.05,98.86 L75.11,98.37 L75.16,97.87 L75.22,97.37 L75.27,96.87 L75.33,96.38 L75.38,95.88 L75.44,95.38 L75.49,94.89 L75.55,94.39 L75.61,93.89 L75.67,93.40 L75.73,92.90 L75.79,92.40 L75.85,91.91 L75.91,91.41 L75.98,90.92 L76.04,90.42 L76.11,89.93 L76.18,89.43 L76.25,88.94 L76.32,88.44 L76.39,87.95 L76.47,87.45 L76.55,86.96 L76.62,86.46 L76.70,85.97 L76.78,85.48 L76.87,84.98 L76.95,84.49 L77.04,84.00 L77.12,83.50 L77.21,83.01 L77.30,82.52 L77.39,82.03 L77.49,81.54 L77.58,81.05 L77.68,80.56 L77.78,80.06 L77.88,79.57 L77.98,79.08 L78.10,78.60 L78.21,78.11 L78.33,77.63 L78.46,77.14 L78.59,76.66 L78.73,76.17 L78.88,75.67 L79.04,75.19 L79.23,74.73 L79.44,74.30 L79.72,73.86 L80.10,73.47 L80.50,73.42 L80.97,73.55 L81.47,73.78 L81.95,74.07 L82.36,74.37 L82.67,74.67 L82.94,75.01 L83.19,75.40 L83.42,75.82 L83.64,76.27 L83.84,76.75 L84.03,77.24 L84.22,77.75 L84.39,78.26 L84.57,78.77 L84.74,79.27 L84.91,79.76 L85.09,80.23 L85.26,80.69 L85.43,81.16 L85.60,81.63 L85.76,82.10 L85.92,82.58 L86.08,83.05 L86.24,83.53 L86.39,84.00 L86.54,84.48 L86.69,84.96 L86.84,85.44 L86.98,85.92 L87.12,86.40 L87.26,86.88 L87.40,87.36 L87.54,87.85 L87.67,88.33 L87.81,88.81 L87.94,89.29 L88.07,89.77 L88.20,90.25 L88.33,90.74 L88.46,91.22 L88.58,91.70 L88.71,92.19 L88.83,92.67 L88.95,93.15 L89.07,93.64 L89.19,94.12 L89.30,94.61 L89.42,95.10 L89.53,95.58 L89.65,96.07 L89.76,96.56 L89.87,97.04 L89.98,97.53 L90.09,98.02 L90.20,98.51 L90.31,99.00 L90.42,99.48 L90.53,99.97 L90.64,100.46 L90.75,100.95 L90.86,101.44 L90.96,101.93 L91.07,102.42 L91.18,102.91 L91.29,103.39 L91.40,103.88 L91.50,104.37 L91.61,104.86 L91.72,105.35 L91.83,105.84 L91.94,106.32 L92.05,106.81 L92.16,107.30 L92.28,107.79 L92.39,108.27 L92.50,108.76 L92.62,109.25 L92.74,109.73 L92.85,110.22 L92.97,110.71 L93.09,111.19 L93.21,111.68 L93.33,112.16 L93.45,112.65 L93.57,113.13 L93.69,113.62 L93.81,114.11 L93.93,114.59 L94.05,115.08 L94.17,115.56 L94.29,116.05 L94.41,116.53 L94.53,117.02 L94.65,117.50 L94.78,117.99 L94.90,118.47 L95.02,118.96 L95.14,119.44 L95.26,119.93 L95.39,120.41 L95.51,120.90 L95.63,121.38 L95.75,121.86 L95.88,122.35 L96.00,122.83 L96.12,123.32 L96.24,123.80 L96.37,124.29 L96.49,124.77 L96.61,125.26 L96.73,125.74 L96.85,126.23 L96.98,126.71 L97.10,127.20 L97.22,127.68 L97.34,128.17 L97.46,128.65 L97.58,129.14 L97.70,129.62 L97.82,130.11 L97.94,130.60 L98.06,131.08 L98.18,131.57 L98.30,132.05 L98.41,132.54 L98.53,133.03 L98.64,133.52 L98.76,134.01 L98.87,134.49 L98.98,134.98 L99.10,135.47 L99.21,135.96 L99.32,136.45 L99.43,136.93 L99.55,137.42 L99.66,137.91 L99.77,138.40 L99.88,138.89 L100.00,139.38 L100.11,139.86 L100.23,140.35 L100.34,140.84 L100.46,141.33 L100.58,141.81 L100.69,142.30 L100.81,142.78 L100.93,143.27 L101.06,143.75 L101.18,144.24 L101.30,144.72 L101.43,145.21 L101.56,145.69 L101.68,146.17 L101.81,146.65 L101.95,147.13 L102.08,147.61 L102.22,148.09 L102.35,148.57 L102.49,149.05 L102.64,149.53 L102.78,150.00 L102.92,150.48 L103.07,150.96 L103.22,151.43 L103.37,151.91 L103.52,152.39 L103.68,152.86 L103.83,153.34 L103.99,153.81 L104.15,154.29 L104.31,154.76 L104.47,155.24 L104.64,155.71 L104.80,156.19 L104.97,156.66 L105.14,157.14 L105.31,157.61 L105.49,158.08 L105.66,158.55 L105.84,159.02 L106.02,159.49 L106.20,159.96 L106.38,160.43 L106.56,160.90 L106.75,161.37 L106.93,161.83 L107.12,162.30 L107.32,162.76 L107.51,163.22 L107.70,163.69 L107.90,164.15 L108.10,164.60 L108.30,165.06 L108.51,165.52 L108.71,165.97 L108.92,166.42 L109.13,166.87 L109.35,167.32 L109.56,167.77 L109.78,168.21 L110.01,168.66 L110.23,169.10 L110.47,169.54 L110.70,169.97 L110.94,170.41 L111.19,170.84 L111.43,171.27 L111.69,171.70 L111.94,172.12 L112.20,172.55 L112.47,172.97 L112.74,173.39 L113.01,173.81 L113.28,174.23 L113.55,174.65 L113.83,175.07 L114.10,175.49 L114.38,175.91 L114.65,176.33 L114.92,176.75 L115.19,177.17 L115.46,177.59 L115.73,178.02 L116.00,178.44 L116.26,178.87 L116.53,179.29 L116.79,179.72 L117.05,180.15 L117.32,180.57 L117.58,181.00 L117.84,181.42 L118.11,181.84 L118.38,182.26 L118.65,182.68 L118.93,183.10 L119.21,183.51 L119.49,183.92 L119.78,184.33 L120.07,184.74 L120.37,185.14 L120.67,185.53 L120.98,185.93 L121.29,186.32 L121.60,186.70 L121.92,187.09 L122.25,187.46 L122.58,187.84 L122.92,188.21 L123.25,188.58 L123.60,188.94 L123.95,189.30 L124.30,189.65 L124.65,190.00 L125.01,190.35 L125.38,190.69 L125.75,191.03 L126.12,191.36 L126.50,191.69 L126.88,192.01 L127.26,192.33 L127.65,192.64 L128.05,192.95 L128.44,193.25 L128.85,193.55 L129.25,193.84 L129.66,194.12 L130.07,194.40 L130.49,194.67 L130.91,194.93 L131.34,195.20 L131.76,195.45 L132.19,195.70 L132.63,195.95 L133.07,196.19 L133.51,196.43 L133.95,196.66 L134.40,196.88 L134.85,197.11 L135.31,197.32 L135.76,197.53 L136.22,197.74 L136.68,197.94 L137.14,198.13 L137.60,198.32 L138.07,198.50 L138.53,198.68 L139.00,198.86 L139.47,199.02 L139.94,199.18 L140.42,199.34 L140.89,199.49 L141.37,199.64 L141.85,199.79 L142.33,199.93 L142.81,200.06 L143.29,200.19 L143.77,200.32 L144.26,200.44 L144.74,200.56 L145.23,200.67 L145.72,200.78 L146.21,200.88 L146.70,200.98 L147.19,201.08 L147.69,201.17 L148.18,201.25 L148.67,201.33 L149.17,201.41 L149.66,201.48 L150.16,201.55 L150.65,201.61 L151.15,201.67 L151.64,201.73 L152.14,201.78 L152.64,201.83 L153.13,201.88 L153.63,201.93 L154.13,201.97 L154.63,202.01 L155.13,202.04 L155.63,202.08 L156.13,202.11 L156.63,202.14 L157.13,202.16 L157.63,202.18 L158.13,202.20 L158.63,202.22 L159.12,202.23 L159.62,202.24 L160.12,202.25 L160.62,202.25 L161.12,202.25 L161.62,202.25 L162.12,202.25 L162.62,202.25 L163.12,202.24 L163.62,202.23 L164.12,202.22 L164.62,202.21 L165.12,202.20 L165.62,202.19 L166.12,202.17 L166.62,202.15 L167.12,202.14 L167.62,202.12 L168.12,202.10 L168.62,202.08 L169.12,202.06 L169.62,202.04 L170.12,202.02 L170.62,201.99 L171.12,201.97 L171.62,201.94 L172.12,201.91 L172.62,201.88 L173.12,201.85 L173.61,201.82 L174.11,201.78 L174.61,201.74 L175.11,201.71 L175.61,201.67 L176.11,201.63 L176.61,201.59 L177.11,201.55 L177.60,201.51 L178.10,201.47 L178.60,201.43 L179.10,201.39 L179.60,201.35 L180.10,201.30 L180.60,201.26 L181.10,201.22 L181.60,201.18 L182.10,201.14 L182.60,201.10 L183.10,201.06 L183.60,201.02 L184.10,200.98 L184.60,200.94 L185.10,200.90 L185.60,200.86 L186.10,200.82 L186.60,200.77 L187.10,200.72 L187.60,200.67 L188.09,200.62 L188.59,200.56 L189.08,200.50 L189.57,200.44 L190.06,200.37 L190.55,200.29 L191.04,200.21 L191.53,200.12 L192.01,200.03 L192.49,199.92 L192.98,199.81 L193.46,199.69 L193.94,199.57 L194.41,199.43 L194.89,199.29 L195.36,199.14 L195.84,198.98 L196.31,198.81 L196.78,198.65 L197.25,198.47 L197.72,198.29 L198.19,198.11 L198.65,197.93 L199.12,197.74 L199.58,197.55 L200.05,197.36 L200.51,197.17 L200.97,196.98 L201.44,196.78 L201.90,196.59 L202.36,196.39 L202.82,196.19 L203.28,196.00 L203.74,195.80 L204.20,195.60 L204.66,195.40 L205.12,195.20 L205.58,195.00 L206.04,194.80 L206.49,194.60 L206.95,194.40 L207.41,194.20 L207.87,194.00 L208.33,193.80 L208.79,193.60 L209.24,193.39 L209.70,193.19 L210.15,192.98 L210.60,192.77 L211.05,192.55 L211.50,192.33 L211.95,192.11 L212.39,191.88 L212.83,191.65 L213.27,191.41 L213.70,191.17 L214.13,190.92 L214.56,190.67 L214.99,190.42 L215.42,190.16 L215.84,189.89 L216.27,189.63 L216.69,189.36 L217.11,189.09 L217.53,188.83 L217.96,188.56 L218.38,188.29 L218.80,188.02 L219.22,187.75 L219.65,187.49 L220.07,187.23 L220.50,186.97 L220.93,186.71 L221.36,186.45 L221.79,186.20 L222.23,185.95 L222.66,185.71 L223.10,185.47 L223.54,185.23 L223.98,185.00 L224.42,184.77 L224.87,184.55 L225.32,184.33 L225.77,184.12 L226.22,183.91 L226.68,183.71 L227.14,183.51 L227.60,183.33 L228.06,183.14 L228.53,182.97 L228.99,182.80 L229.46,182.63 L229.94,182.47 L230.41,182.31 L230.88,182.16 L231.36,182.00 L231.84,181.85 L232.32,181.71 L232.79,181.56 L233.27,181.41 L233.75,181.27 L234.23,181.12 L234.71,180.98 L235.19,180.84 L235.67,180.69 L236.15,180.55 L236.63,180.40 L237.11,180.26 L237.59,180.12 L238.07,179.98 L238.55,179.83 L239.03,179.69 L239.51,179.55 L239.99,179.41 L240.47,179.28 L240.95,179.14 L241.43,179.00 L241.91,178.87 L242.39,178.74 L242.88,178.61 L243.36,178.49 L243.84,178.36 L244.33,178.24 L244.81,178.13 L245.30,178.02 L245.79,177.91 L246.27,177.80 L246.76,177.70 L247.25,177.60 L247.74,177.50 L248.23,177.41 L248.72,177.32 L249.22,177.23 L249.71,177.14 L250.20,177.06 L250.70,176.98 L251.19,176.90 L251.68,176.82 L252.18,176.74 L252.67,176.66 L253.17,176.58 L253.66,176.51 L254.16,176.43 L254.65,176.36 L255.15,176.29 L255.64,176.21 L256.14,176.14 L256.63,176.07 L257.13,176.00 L257.62,175.93 L258.12,175.86 L258.61,175.79 L259.11,175.72 L259.60,175.66 L260.10,175.59 L260.59,175.53 L261.09,175.46 L261.59,175.40 L262.08,175.34 L262.58,175.28 L263.08,175.23 L263.57,175.17 L264.07,175.12 L264.57,175.07 L265.06,175.02 L265.56,174.97 L266.06,174.92 L266.56,174.87 L267.06,174.83 L267.55,174.78 L268.05,174.74 L268.55,174.70 L269.05,174.66 L269.55,174.62 L270.05,174.58 L270.55,174.54 L271.04,174.51 L271.54,174.48 L272.04,174.45 L272.54,174.42 L273.04,174.39 L273.54,174.37 L274.04,174.35 L274.54,174.33 L275.04,174.31 L275.54,174.30 L276.04,174.28 L276.54,174.27 L277.04,174.26 L277.54,174.25 L278.04,174.25 L278.54,174.24 L279.04,174.23 L279.54,174.23 L280.04,174.23 L280.54,174.22 L281.04,174.22 L281.54,174.22 L282.04,174.23 L282.54,174.23 L283.04,174.24 L283.54,174.24 L284.03,174.25 L284.53,174.27 L285.03,174.28 L285.53,174.30 L286.03,174.32 L286.53,174.35 L287.03,174.38 L287.53,174.41 L288.03,174.44 L288.53,174.47 L289.02,174.50 L289.52,174.54 L290.02,174.57 L290.52,174.61 L291.02,174.64 L291.52,174.67 L292.02,174.71 L292.52,174.74 L293.02,174.77 L293.51,174.80 L294.01,174.83 L294.51,174.86 L295.01,174.89 L295.51,174.92 L296.01,174.95 L296.51,174.98 L297.01,175.01 L297.51,175.04 L298.01,175.06 L298.51,175.09 L299.01,175.12 L299.50,175.15 L300.00,175.19 L300.50,175.22 L301.00,175.25 L301.50,175.28 L302.00,175.31 L302.50,175.34 L303.00,175.37 L303.50,175.40 L304.00,175.43 L304.49,175.47 L304.99,175.50 L305.49,175.53 L305.99,175.56 L306.49,175.60 L306.99,175.63 L307.49,175.66 L307.99,175.70 L308.49,175.73 L308.98,175.77 L309.48,175.80 L309.98,175.84 L310.48,175.87 L310.98,175.91 L311.48,175.94 L311.98,175.98 L312.48,176.02 L312.97,176.05 L313.47,176.09 L313.97,176.13 L314.47,176.17 L314.97,176.21 L315.47,176.25 L315.97,176.29 L316.46,176.32 L316.96,176.36 L317.46,176.40 L317.96,176.44 L318.46,176.48 L318.96,176.52 L319.45,176.56 L319.95,176.60 L320.45,176.64 L320.95,176.68 L321.45,176.72 L321.95,176.76 L322.44,176.80 L322.94,176.84 L323.44,176.88 L323.94,176.91 L324.44,176.95 L324.94,176.99 L325.44,177.03 L325.93,177.06 L326.43,177.10 L326.93,177.13 L327.43,177.17 L327.93,177.20 L328.43,177.24 L328.93,177.27 L329.43,177.31 L329.92,177.34 L330.42,177.38 L330.92,177.41 L331.42,177.45 L331.92,177.48 L332.41,177.51 L332.91,177.55 L333.40,177.58 L333.90,177.61 L334.39,177.64 L334.88,177.68 L335.36,177.71 L335.85,177.74 L336.33,177.77 L336.81,177.80 L337.30,177.83 L337.78,177.86 L338.27,177.89 L338.78,177.92 L339.30,177.96 L339.84,177.99 L340.00,178.00" stroke="#000000"/>
<path d="M59.50,213.30 L59.91,212.97 L60.31,212.63 L60.68,212.26 L61.02,211.89 L61.31,211.50 L61.55,211.09 L61.75,210.67 L61.92,210.22 L62.07,209.75 L62.20,209.27 L62.33,208.77 L62.45,208.27 L62.57,207.77 L62.69,207.27 L62.82,206.79 L62.95,206.31 L63.09,205.82 L63.22,205.34 L63.36,204.86 L63.49,204.37 L63.63,203.89 L63.76,203.40 L63.88,202.92 L64.00,202.43 L64.12,201.95 L64.23,201.46 L64.33,200.97 L64.42,200.48 L64.50,199.99 L64.58,199.50 L64.65,199.01 L64.71,198.51 L64.77,198.02 L64.83,197.52 L64.89,197.03 L64.95,196.53 L65.00,196.03 L65.05,195.54 L65.10,195.04 L65.15,194.54 L65.19,194.04 L65.24,193.54 L65.29,193.04 L65.34,192.54 L65.38,192.04 L65.43,191.55 L65.49,191.05 L65.54,190.55 L65.59,190.05 L65.65,189.56 L65.71,189.06 L65.77,188.56 L65.83,188.07 L65.90,187.57 L65.96,187.07 L66.02,186.58 L66.09,186.08 L66.15,185.59 L66.21,185.09 L66.28,184.59 L66.34,184.10 L66.40,183.60 L66.46,183.10 L66.52,182.61 L66.58,182.11 L66.63,181.61 L66.69,181.12 L66.74,180.62 L66.79,180.12 L66.84,179.63 L66.88,179.13 L66.93,178.63 L66.97,178.13 L67.02,177.64 L67.06,177.14 L67.10,176.64 L67.15,176.14 L67.19,175.64 L67.23,175.15 L67.27,174.65 L67.31,174.15 L67.35,173.65 L67.39,173.15 L67.43,172.66 L67.47,172.16 L67.51,171.66 L67.54,171.16 L67.58,170.66 L67.62,170.16 L67.65,169.66 L67.69,169.17 L67.73,168.67 L67.76,168.17 L67.80,167.67 L67.83,167.17 L67.87,166.67 L67.90,166.17 L67.93,165.67 L67.97,165.17 L68.00,164.68 L68.04,164.18 L68.07,163.68 L68.10,163.18 L68.14,162.68 L68.17,162.18 L68.20,161.68 L68.24,161.18 L68.27,160.68 L68.30,160.18 L68.34,159.68 L68.37,159.19 L68.40,158.69 L68.43,158.19 L68.47,157.69 L68.50,157.19 L68.53,156.69 L68.57,156.19 L68.60,155.69 L68.64,155.19 L68.67,154.69 L68.70,154.20 L68.74,153.70 L68.77,153.20 L68.81,152.70 L68.84,152.20 L68.88,151.70 L68.91,151.20 L68.95,150.70 L68.99,150.20 L69.02,149.71 L69.06,149.21 L69.09,148.71 L69.13,148.21 L69.17,147.71 L69.20,147.21 L69.24,146.71 L69.27,146.21 L69.31,145.72 L69.35,145.22 L69.38,144.72 L69.42,144.22 L69.45,143.72 L69.49,143.22 L69.52,142.72 L69.56,142.22 L69.59,141.73 L69.63,141.23 L69.67,140.73 L69.70,140.23 L69.74,139.73 L69.77,139.23 L69.81,138.73 L69.84,138.23 L69.88,137.74 L69.91,137.24 L69.95,136.74 L69.98,136.24 L70.02,135.74 L70.05,135.24 L70.09,134.74 L70.13,134.24 L70.16,133.75 L70.20,133.25 L70.23,132.75 L70.27,132.25 L70.31,131.75 L70.34,131.25 L70.38,130.75 L70.41,130.26 L70.45,129.76 L70.49,129.26 L70.52,128.76 L70.56,128.26 L70.60,127.76 L70.64,127.26 L70.67,126.76 L70.71,126.27 L70.75,125.77 L70.79,125.27 L70.83,124.77 L70.86,124.27 L70.90,123.77 L70.94,123.28 L70.98,122.78 L71.02,122.28 L71.06,121.78 L71.10,121.28 L71.14,120.78 L71.18,120.28 L71.22,119.79 L71.26,119.29 L71.30,118.79 L71.34,118.29 L71.38,117.79 L71.42,117.29 L71.47,116.80 L71.51,116.30 L71.55,115.80 L71.59,115.30 L71.64,114.80 L71.68,114.31 L71.72,113.81 L71.77,113.31 L71.81,112.81 L71.86,112.31 L71.90,111.82 L71.95,111.32 L71.99,110.82 L72.03,110.32 L72.08,109.82 L72.12,109.33 L72.17,108.83 L72.21,108.33 L72.26,107.83 L72.31,107.33 L72.35,106.84 L72.40,106.34 L72.44,105.84 L72.49,105.34 L72.53,104.84 L72.58,104.35 L72.62,103.85 L72.67,103.35 L72.71,102.85 L72.76,102.35 L72.80,101.86 L72.85,101.36 L72.89,100.86 L72.94,100.36 L72.98,99.86 L73.03,99.37 L73.07,98.87 L73.12,98.37 L73.16,97.87 L73.21,97.37 L73.26,96.88 L73.30,96.38 L73.35,95.88 L73.39,95.38 L73.44,94.89 L73.49,94.39 L73.53,93.89 L73.58,93.39 L73.63,92.89 L73.67,92.40 L73.72,91.90 L73.77,91.40 L73.82,90.90 L73.86,90.41 L73.91,89.91 L73.96,89.41 L74.01,88.91 L74.06,88.41 L74.11,87.92 L74.16,87.42 L74.21,86.92 L74.26,86.42 L74.31,85.93 L74.36,85.43 L74.41,84.93 L74.47,84.44 L74.52,83.94 L74.57,83.44 L74.62,82.94 L74.68,82.45 L74.73,81.95 L74.78,81.45 L74.84,80.96 L74.89,80.46 L74.95,79.96 L75.00,79.46 L75.05,78.97 L75.11,78.47 L75.17,77.97 L75.22,77.48 L75.28,76.98 L75.33,76.48 L75.39,75.99 L75.44,75.49 L75.50,74.99 L75.56,74.50 L75.61,74.00 L75.67,73.50 L75.73,73.00 L75.78,72.51 L75.84,72.01 L75.90,71.51 L75.96,71.02 L76.01,70.52 L76.07,70.02 L76.13,69.53 L76.19,69.03 L76.25,68.53 L76.31,68.04 L76.37,67.54 L76.43,67.05 L76.50,66.55 L76.56,66.05 L76.63,65.56 L76.69,65.06 L76.76,64.57 L76.82,64.07 L76.89,63.58 L76.96,63.08 L77.03,62.59 L77.10,62.09 L77.17,61.59 L77.24,61.10 L77.31,60.60 L77.39,60.11 L77.47,59.62 L77.54,59.12 L77.62,58.63 L77.70,58.14 L77.79,57.64 L77.87,57.15 L77.96,56.66 L78.05,56.17 L78.14,55.67 L78.23,55.18 L78.33,54.69 L78.42,54.20 L78.53,53.70 L78.63,53.21 L78.74,52.72 L78.85,52.24 L78.97,51.75 L79.09,51.27 L79.22,50.79 L79.35,50.31 L79.49,49.82 L79.64,49.31 L79.80,48.81 L79.97,48.33 L80.17,47.88 L80.39,47.47 L80.66,47.08 L81.04,46.67 L81.47,46.34 L81.90,46.20 L82.33,46.27 L82.78,46.46 L83.23,46.74 L83.68,47.07 L84.10,47.43 L84.46,47.77 L84.79,48.09 L85.10,48.45 L85.40,48.83 L85.69,49.24 L85.96,49.66 L86.22,50.10 L86.48,50.55 L86.72,51.00 L86.96,51.47 L87.18,51.94 L87.40,52.41 L87.62,52.87 L87.82,53.33 L88.02,53.78 L88.22,54.23 L88.41,54.69 L88.59,55.16 L88.77,55.62 L88.94,56.09 L89.11,56.56 L89.28,57.04 L89.44,57.52 L89.60,58.00 L89.75,58.48 L89.90,58.96 L90.04,59.44 L90.19,59.92 L90.33,60.40 L90.47,60.88 L90.60,61.36 L90.73,61.84 L90.86,62.32 L90.99,62.80 L91.12,63.28 L91.25,63.76 L91.37,64.24 L91.49,64.73 L91.61,65.21 L91.73,65.69 L91.85,66.18 L91.97,66.66 L92.08,67.15 L92.20,67.64 L92.31,68.12 L92.42,68.61 L92.53,69.10 L92.64,69.58 L92.75,70.07 L92.85,70.56 L92.96,71.05 L93.07,71.54 L93.17,72.03 L93.27,72.52 L93.38,73.01 L93.48,73.50 L93.58,73.99 L93.68,74.48 L93.78,74.97 L93.88,75.46 L93.98,75.95 L94.08,76.44 L94.18,76.93 L94.28,77.42 L94.38,77.92 L94.48,78.41 L94.58,78.90 L94.68,79.39 L94.78,79.88 L94.87,80.37 L94.97,80.86 L95.07,81.35 L95.17,81.85 L95.27,82.34 L95.37,82.83 L95.48,83.32 L95.58,83.81 L95.68,84.30 L95.78,84.79 L95.89,85.28 L95.99,85.77 L96.10,86.26 L96.20,86.75 L96.31,87.24 L96.42,87.72 L96.52,88.21 L96.63,88.70 L96.74,89.19 L96.86,89.68 L96.97,90.16 L97.08,90.65 L97.19,91.14 L97.30,91.63 L97.41,92.11 L97.52,92.60 L97.64,93.09 L97.75,93.57 L97.86,94.06 L97.97,94.55 L98.09,95.04 L98.20,95.52 L98.31,96.01 L98.43,96.50 L98.54,96.98 L98.65,97.47 L98.77,97.96 L98.88,98.45 L98.99,98.93 L99.11,99.42 L99.22,99.91 L99.34,100.39 L99.45,100.88 L99.56,101.37 L99.68,101.85 L99.79,102.34 L99.91,102.83 L100.02,103.31 L100.14,103.80 L100.25,104.29 L100.37,104.77 L100.48,105.26 L100.60,105.75 L100.71,106.23 L100.82,106.72 L100.94,107.21 L101.05,107.69 L101.17,108.18 L101.28,108.67 L101.40,109.15 L101.51,109.64 L101.63,110.13 L101.74,110.61 L101.86,111.10 L101.97,111.59 L102.08,112.07 L102.20,112.56 L102.31,113.05 L102.42,113.54 L102.54,114.02 L102.65,114.51 L102.76,115.00 L102.88,115.48 L102.99,115.97 L103.10,116.46 L103.22,116.95 L103.33,117.43 L103.44,117.92 L103.56,118.41 L103.67,118.89 L103.79,119.38 L103.90,119.87 L104.01,120.36 L104.13,120.84 L104.25,121.33 L104.36,121.82 L104.48,122.30 L104.60,122.79 L104.71,123.27 L104.83,123.76 L104.95,124.24 L105.07,124.73 L105.19,125.22 L105.31,125.70 L105.43,126.19 L105.55,126.67 L105.68,127.15 L105.80,127.64 L105.92,128.12 L106.05,128.61 L106.18,129.09 L106.30,129.57 L106.43,130.06 L106.56,130.54 L106.69,131.02 L106.82,131.51 L106.95,131.99 L107.08,132.47 L107.21,132.95 L107.34,133.43 L107.48,133.92 L107.61,134.40 L107.74,134.88 L107.88,135.36 L108.02,135.84 L108.15,136.33 L108.29,136.81 L108.43,137.29 L108.57,137.77 L108.71,138.25 L108.85,138.73 L108.99,139.21 L109.13,139.69 L109.27,140.17 L109.42,140.65 L109.56,141.13 L109.71,141.61 L109.85,142.08 L110.00,142.56 L110.15,143.04 L110.30,143.52 L110.45,144.00 L110.60,144.47 L110.75,144.95 L110.90,145.43 L111.05,145.90 L111.21,146.38 L111.36,146.85 L111.52,147.33 L111.68,147.80 L111.84,148.27 L112.00,148.75 L112.16,149.22 L112.32,149.69 L112.49,150.16 L112.65,150.63 L112.82,151.11 L112.99,151.58 L113.16,152.05 L113.33,152.51 L113.50,152.98 L113.68,153.45 L113.86,153.92 L114.03,154.39 L114.21,154.85 L114.40,155.32 L114.58,155.78 L114.77,156.25 L114.95,156.71 L115.14,157.18 L115.33,157.64 L115.52,158.10 L115.72,158.56 L115.91,159.02 L116.11,159.48 L116.31,159.94 L116.51,160.40 L116.71,160.86 L116.92,161.31 L117.12,161.77 L117.33,162.22 L117.54,162.68 L117.75,163.13 L117.97,163.58 L118.18,164.03 L118.40,164.48 L118.63,164.93 L118.85,165.38 L119.08,165.82 L119.31,166.27 L119.54,166.71 L119.78,167.15 L120.02,167.59 L120.26,168.02 L120.51,168.45 L120.76,168.89 L121.01,169.32 L121.27,169.74 L121.53,170.17 L121.80,170.59 L122.07,171.01 L122.34,171.43 L122.62,171.84 L122.90,172.26 L123.19,172.67 L123.48,173.07 L123.77,173.48 L124.07,173.88 L124.37,174.28 L124.67,174.68 L124.98,175.07 L125.29,175.46 L125.61,175.85 L125.92,176.23 L126.25,176.61 L126.57,176.99 L126.90,177.37 L127.23,177.74 L127.57,178.11 L127.91,178.48 L128.25,178.84 L128.59,179.21 L128.94,179.56 L129.29,179.92 L129.65,180.27 L130.00,180.62 L130.36,180.97 L130.72,181.32 L131.09,181.66 L131.46,182.00 L131.83,182.34 L132.20,182.67 L132.57,183.00 L132.95,183.33 L133.33,183.65 L133.72,183.97 L134.10,184.29 L134.49,184.60 L134.88,184.91 L135.27,185.22 L135.67,185.52 L136.07,185.83 L136.47,186.12 L136.88,186.42 L137.28,186.71 L137.69,187.00 L138.10,187.28 L138.52,187.56 L138.93,187.84 L139.35,188.11 L139.77,188.39 L140.20,188.66 L140.62,188.92 L141.05,189.19 L141.48,189.45 L141.91,189.71 L142.34,189.96 L142.78,190.21 L143.21,190.46 L143.65,190.71 L144.09,190.95 L144.54,191.19 L144.98,191.42 L145.43,191.65 L145.88,191.87 L146.33,192.08 L146.78,192.29 L147.23,192.49 L147.69,192.69 L148.15,192.88 L148.61,193.06 L149.08,193.24 L149.54,193.40 L150.01,193.56 L150.48,193.72 L150.95,193.87 L151.43,194.01 L151.90,194.15 L152.38,194.28 L152.87,194.41 L153.35,194.53 L153.83,194.64 L154.32,194.76 L154.81,194.86 L155.30,194.97 L155.79,195.07 L156.28,195.16 L156.78,195.25 L157.27,195.34 L157.76,195.42 L158.26,195.50 L158.76,195.57 L159.25,195.64 L159.75,195.71 L160.24,195.78 L160.74,195.84 L161.24,195.90 L161.73,195.95 L162.23,196.01 L162.73,196.06 L163.23,196.11 L163.72,196.16 L164.22,196.20 L164.72,196.24 L165.22,196.28 L165.72,196.32 L166.22,196.36 L166.72,196.39 L167.22,196.42 L167.72,196.44 L168.22,196.47 L168.71,196.49 L169.21,196.50 L169.71,196.52 L170.21,196.52 L170.71,196.53 L171.21,196.53 L171.71,196.53 L172.21,196.53 L172.71,196.52 L173.21,196.51 L173.71,196.50 L174.21,196.48 L174.71,196.47 L175.21,196.45 L175.71,196.43 L176.21,196.40 L176.71,196.38 L177.21,196.35 L177.71,196.32 L178.21,196.29 L178.71,196.26 L179.21,196.23 L179.70,196.20 L180.20,196.17 L180.70,196.13 L181.20,196.10 L181.70,196.06 L182.20,196.02 L182.70,195.98 L183.19,195.94 L183.69,195.90 L184.19,195.85 L184.69,195.81 L185.19,195.76 L185.69,195.71 L186.18,195.66 L186.68,195.61 L187.18,195.56 L187.67,195.51 L188.17,195.45 L188.67,195.39 L189.16,195.33 L189.66,195.27 L190.16,195.20 L190.65,195.13 L191.14,195.06 L191.64,194.99 L192.13,194.91 L192.62,194.83 L193.12,194.75 L193.61,194.66 L194.10,194.57 L194.59,194.48 L195.08,194.38 L195.57,194.28 L196.06,194.18 L196.55,194.08 L197.04,193.97 L197.53,193.86 L198.01,193.74 L198.50,193.63 L198.98,193.51 L199.47,193.39 L199.96,193.27 L200.44,193.15 L200.92,193.02 L201.41,192.89 L201.89,192.76 L202.37,192.63 L202.85,192.50 L203.34,192.36 L203.82,192.23 L204.30,192.09 L204.78,191.95 L205.26,191.82 L205.74,191.68 L206.22,191.54 L206.70,191.40 L207.18,191.26 L207.66,191.12 L208.14,190.98 L208.62,190.83 L209.10,190.69 L209.58,190.54 L210.06,190.39 L210.53,190.24 L211.01,190.09 L211.48,189.94 L211.96,189.78 L212.43,189.62 L212.90,189.46 L213.37,189.29 L213.84,189.12 L214.31,188.95 L214.78,188.77 L215.24,188.59 L215.71,188.40 L216.17,188.22 L216.63,188.03 L217.09,187.83 L217.55,187.64 L218.01,187.44 L218.47,187.23 L218.93,187.03 L219.38,186.82 L219.84,186.62 L220.29,186.41 L220.74,186.20 L221.20,185.99 L221.65,185.78 L222.11,185.58 L222.56,185.38 L223.02,185.18 L223.48,184.98 L223.94,184.79 L224.40,184.61 L224.87,184.43 L225.34,184.26 L225.81,184.09 L226.28,183.93 L226.75,183.77 L227.23,183.62 L227.70,183.47 L228.18,183.33 L228.66,183.19 L229.14,183.05 L229.62,182.92 L230.11,182.79 L230.59,182.66 L231.07,182.54 L231.56,182.41 L232.04,182.29 L232.53,182.17 L233.01,182.05 L233.50,181.93 L233.99,181.82 L234.47,181.70 L234.96,181.59 L235.45,181.48 L235.93,181.36 L236.42,181.25 L236.91,181.14 L237.40,181.04 L237.89,180.93 L238.38,180.82 L238.87,180.72 L239.35,180.62 L239.84,180.51 L240.33,180.42 L240.83,180.32 L241.32,180.22 L241.81,180.13 L242.30,180.04 L242.79,179.95 L243.28,179.87 L243.77,179.78 L244.27,179.70 L244.76,179.62 L245.25,179.54 L245.75,179.47 L246.24,179.39 L246.74,179.32 L247.23,179.25 L247.73,179.18 L248.22,179.11 L248.72,179.05 L249.21,178.98 L249.71,178.92 L250.21,178.86 L250.70,178.80 L251.20,178.74 L251.70,178.68 L252.19,178.62 L252.69,178.56 L253.19,178.51 L253.68,178.45 L254.18,178.40 L254.68,178.34 L255.17,178.29 L255.67,178.24 L256.17,178.18 L256.67,178.13 L257.16,178.08 L257.66,178.03 L258.16,177.98 L258.66,177.93 L259.16,177.89 L259.65,177.84 L260.15,177.79 L260.65,177.75 L261.15,177.71 L261.65,177.66 L262.14,177.62 L262.64,177.59 L263.14,177.55 L263.64,177.51 L264.14,177.48 L264.64,177.45 L265.14,177.42 L265.63,177.39 L266.13,177.36 L266.63,177.33 L267.13,177.30 L267.63,177.28 L268.13,177.25 L268.63,177.23 L269.13,177.21 L269.63,177.18 L270.13,177.16 L270.63,177.14 L271.13,177.13 L271.63,177.11 L272.13,177.09 L272.63,177.08 L273.13,177.07 L273.63,177.06 L274.13,177.05 L274.63,177.04 L275.13,177.03 L275.63,177.02 L276.13,177.02 L276.63,177.01 L277.13,177.01 L277.63,177.01 L278.13,177.01 L278.63,177.01 L279.13,177.01 L279.63,177.01 L280.13,177.01 L280.63,177.01 L281.13,177.02 L281.63,177.02 L282.13,177.03 L282.63,177.04 L283.13,177.05 L283.63,177.06 L284.12,177.08 L284.62,177.10 L285.12,177.12 L285.62,177.14 L286.12,177.16 L286.62,177.19 L287.12,177.22 L287.62,177.25 L288.12,177.28 L288.62,177.31 L289.12,177.34 L289.62,177.37 L290.12,177.40 L290.61,177.43 L291.11,177.47 L291.61,177.50 L292.11,177.53 L292.61,177.56 L293.11,177.60 L293.61,177.63 L294.11,177.66 L294.61,177.69 L295.11,177.73 L295.60,177.76 L296.10,177.79 L296.60,177.82 L297.10,177.85 L297.60,177.89 L298.10,177.92 L298.60,177.95 L299.10,177.98 L299.60,178.01 L300.10,178.04 L300.59,178.07 L301.09,178.10 L301.59,178.13 L302.09,178.16 L302.59,178.19 L303.09,178.23 L303.59,178.26 L304.09,178.29 L304.59,178.32 L305.09,178.35 L305.59,178.38 L306.08,178.41 L306.58,178.44 L307.08,178.47 L307.58,178.50 L308.08,178.53 L308.58,178.56 L309.08,178.59 L309.58,178.61 L310.08,178.64 L310.58,178.67 L311.08,178.70 L311.57,178.73 L312.07,178.76 L312.57,178.79 L313.07,178.82 L313.57,178.85 L314.07,178.88 L314.57,178.91 L315.07,178.93 L315.57,178.96 L316.07,178.99 L316.57,179.02 L317.07,179.05 L317.56,179.08 L318.06,179.10 L318.56,179.13 L319.06,179.16 L319.56,179.19 L320.06,179.22 L320.56,179.25 L321.06,179.27 L321.56,179.30 L322.06,179.33 L322.56,179.36 L323.06,179.39 L323.56,179.42 L324.05,179.45 L324.55,179.48 L325.05,179.50 L325.55,179.53 L326.05,179.56 L326.55,179.59 L327.05,179.62 L327.55,179.65 L328.05,179.68 L328.55,179.71 L329.05,179.74 L329.54,179.77 L330.04,179.80 L330.54,179.83 L331.04,179.86 L331.54,179.89 L332.04,179.92 L332.53,179.95 L333.03,179.98 L333.53,180.01 L334.02,180.04 L334.51,180.07 L335.00,180.10 L335.49,180.12 L335.97,180.15 L336.46,180.18 L336.94,180.21 L337.43,180.24 L337.92,180.27 L338.42,180.30 L338.94,180.33 L339.47,180.37 L340.00,180.40" stroke="#008000"/>
<path d="M45.50,213.60 L46.01,213.60 L46.52,213.60 L47.02,213.60 L47.53,213.60 L48.03,213.60 L48.53,213.60 L49.04,213.60 L49.54,213.60 L50.04,213.60 L50.54,213.60 L51.04,213.60 L51.54,213.60 L52.04,213.60 L52.53,213.60 L53.03,213.60 L53.53,213.60 L54.02,213.60 L54.52,213.60 L55.01,213.60 L55.51,213.60 L56.00,213.60 L56.50,213.59 L57.01,213.52 L57.50,213.39 L57.94,213.25 L58.37,213.03 L58.79,212.74 L59.19,212.38 L59.57,211.99 L59.90,211.58 L60.19,211.16 L60.43,210.75 L60.62,210.33 L60.79,209.87 L60.95,209.40 L61.09,208.91 L61.21,208.40 L61.34,207.90 L61.46,207.40 L61.58,206.91 L61.71,206.43 L61.83,205.95 L61.96,205.46 L62.08,204.97 L62.20,204.49 L62.31,204.00 L62.43,203.51 L62.53,203.02 L62.64,202.53 L62.74,202.04 L62.84,201.55 L62.93,201.06 L63.01,200.57 L63.09,200.08 L63.16,199.58 L63.23,199.09 L63.30,198.60 L63.36,198.10 L63.42,197.60 L63.48,197.11 L63.54,196.61 L63.59,196.11 L63.64,195.62 L63.69,195.12 L63.74,194.62 L63.79,194.12 L63.84,193.62 L63.89,193.13 L63.94,192.63 L63.99,192.13 L64.04,191.63 L64.08,191.13 L64.13,190.63 L64.19,190.14 L64.24,189.64 L64.29,189.14 L64.34,188.65 L64.39,188.15 L64.45,187.65 L64.50,187.15 L64.55,186.66 L64.60,186.16 L64.65,185.66 L64.71,185.16 L64.76,184.67 L64.81,184.17 L64.86,183.67 L64.91,183.17 L64.95,182.68 L65.00,182.18 L65.05,181.68 L65.09,181.18 L65.14,180.68 L65.18,180.19 L65.23,179.69 L65.27,179.19 L65.31,178.69 L65.35,178.19 L65.40,177.70 L65.44,177.20 L65.48,176.70 L65.52,176.20 L65.56,175.70 L65.60,175.21 L65.64,174.71 L65.68,174.21 L65.72,173.71 L65.75,173.21 L65.79,172.71 L65.83,172.21 L65.87,171.72 L65.91,171.22 L65.94,170.72 L65.98,170.22 L66.02,169.72 L66.05,169.22 L66.09,168.72 L66.13,168.23 L66.16,167.73 L66.20,167.23 L66.23,166.73 L66.27,166.23 L66.31,165.73 L66.34,165.23 L66.38,164.73 L66.41,164.24 L66.45,163.74 L66.48,163.24 L66.52,162.74 L66.55,162.24 L66.58,161.74 L66.62,161.24 L66.65,160.74 L66.69,160.24 L66.72,159.75 L66.76,159.25 L66.79,158.75 L66.82,158.25 L66.86,157.75 L66.89,157.25 L66.93,156.75 L66.96,156.25 L67.00,155.75 L67.03,155.26 L67.07,154.76 L67.10,154.26 L67.13,153.76 L67.17,153.26 L67.20,152.76 L67.24,152.26 L67.27,151.76 L67.31,151.26 L67.35,150.77 L67.38,150.27 L67.42,149.77 L67.45,149.27 L67.49,148.77 L67.52,148.27 L67.56,147.77 L67.59,147.27 L67.63,146.78 L67.66,146.28 L67.70,145.78 L67.73,145.28 L67.77,144.78 L67.80,144.28 L67.84,143.78 L67.87,143.28 L67.91,142.79 L67.94,142.29 L67.98,141.79 L68.01,141.29 L68.05,140.79 L68.08,140.29 L68.12,139.79 L68.15,139.29 L68.19,138.80 L68.22,138.30 L68.25,137.80 L68.29,137.30 L68.32,136.80 L68.36,136.30 L68.39,135.80 L68.43,135.30 L68.46,134.81 L68.50,134.31 L68.53,133.81 L68.56,133.31 L68.60,132.81 L68.63,132.31 L68.67,131.81 L68.70,131.31 L68.74,130.81 L68.77,130.32 L68.81,129.82 L68.84,129.32 L68.88,128.82 L68.91,128.32 L68.94,127.82 L68.98,127.32 L69.01,126.82 L69.05,126.33 L69.08,125.83 L69.12,125.33 L69.15,124.83 L69.19,124.33 L69.23,123.83 L69.26,123.33 L69.30,122.83 L69.33,122.34 L69.37,121.84 L69.40,121.34 L69.44,120.84 L69.48,120.34 L69.51,119.84 L69.55,119.34 L69.58,118.84 L69.62,118.35 L69.66,117.85 L69.69,117.35 L69.73,116.85 L69.76,116.35 L69.80,115.85 L69.84,115.35 L69.87,114.86 L69.91,114.36 L69.95,113.86 L69.98,113.36 L70.02,112.86 L70.06,112.36 L70.09,111.86 L70.13,111.36 L70.17,110.87 L70.20,110.37 L70.24,109.87 L70.28,109.37 L70.31,108.87 L70.35,108.37 L70.39,107.87 L70.42,107.38 L70.46,106.88 L70.50,106.38 L70.54,105.88 L70.57,105.38 L70.61,104.88 L70.65,104.38 L70.68,103.88 L70.72,103.39 L70.76,102.89 L70.80,102.39 L70.83,101.89 L70.87,101.39 L70.91,100.89 L70.95,100.39 L70.98,99.90 L71.02,99.40 L71.06,98.90 L71.10,98.40 L71.14,97.90 L71.17,97.40 L71.21,96.90 L71.25,96.41 L71.29,95.91 L71.33,95.41 L71.36,94.91 L71.40,94.41 L71.44,93.91 L71.48,93.41 L71.52,92.92 L71.56,92.42 L71.59,91.92 L71.63,91.42 L71.67,90.92 L71.71,90.42 L71.75,89.93 L71.79,89.43 L71.83,88.93 L71.87,88.43 L71.91,87.93 L71.94,87.43 L71.98,86.93 L72.02,86.44 L72.06,85.94 L72.10,85.44 L72.14,84.94 L72.18,84.44 L72.22,83.94 L72.26,83.45 L72.30,82.95 L72.34,82.45 L72.38,81.95 L72.42,81.45 L72.46,80.95 L72.50,80.45 L72.54,79.96 L72.57,79.46 L72.61,78.96 L72.65,78.46 L72.69,77.96 L72.73,77.46 L72.77,76.97 L72.81,76.47 L72.86,75.97 L72.90,75.47 L72.94,74.97 L72.98,74.47 L73.02,73.98 L73.06,73.48 L73.10,72.98 L73.14,72.48 L73.18,71.98 L73.22,71.48 L73.26,70.99 L73.30,70.49 L73.34,69.99 L73.39,69.49 L73.43,68.99 L73.47,68.49 L73.51,68.00 L73.55,67.50 L73.59,67.00 L73.64,66.50 L73.68,66.00 L73.72,65.50 L73.76,65.01 L73.81,64.51 L73.85,64.01 L73.89,63.51 L73.94,63.01 L73.98,62.52 L74.02,62.02 L74.07,61.52 L74.11,61.02 L74.15,60.52 L74.20,60.03 L74.24,59.53 L74.29,59.03 L74.33,58.53 L74.37,58.03 L74.41,57.53 L74.46,57.04 L74.50,56.54 L74.54,56.04 L74.58,55.54 L74.63,55.04 L74.67,54.54 L74.71,54.04 L74.75,53.55 L74.79,53.05 L74.84,52.55 L74.88,52.05 L74.92,51.55 L74.97,51.05 L75.01,50.55 L75.05,50.06 L75.10,49.56 L75.14,49.06 L75.18,48.56 L75.23,48.06 L75.28,47.56 L75.32,47.07 L75.37,46.57 L75.42,46.07 L75.46,45.57 L75.51,45.07 L75.56,44.58 L75.61,44.08 L75.66,43.58 L75.71,43.09 L75.77,42.59 L75.82,42.09 L75.87,41.60 L75.93,41.10 L75.99,40.60 L76.04,40.11 L76.10,39.61 L76.16,39.12 L76.22,38.62 L76.28,38.12 L76.35,37.63 L76.41,37.13 L76.48,36.64 L76.55,36.14 L76.63,35.65 L76.70,35.16 L76.78,34.66 L76.86,34.17 L76.94,33.67 L77.02,33.18 L77.11,32.69 L77.20,32.19 L77.29,31.70 L77.38,31.21 L77.47,30.72 L77.56,30.23 L77.66,29.73 L77.75,29.24 L77.85,28.75 L77.95,28.26 L78.05,27.77 L78.15,27.28 L78.25,26.79 L78.35,26.30 L78.46,25.81 L78.57,25.32 L78.68,24.83 L78.81,24.34 L78.94,23.86 L79.08,23.39 L79.23,22.91 L79.40,22.37 L79.61,21.77 L79.83,21.19 L80.05,20.68 L80.28,20.33 L80.50,20.20 L80.72,20.33 L80.93,20.69 L81.15,21.20 L81.37,21.78 L81.57,22.38 L81.77,22.92 L81.95,23.38 L82.13,23.85 L82.30,24.32 L82.47,24.79 L82.63,25.26 L82.79,25.74 L82.95,26.21 L83.11,26.69 L83.26,27.17 L83.41,27.64 L83.55,28.12 L83.69,28.60 L83.84,29.08 L83.98,29.56 L84.11,30.04 L84.25,30.53 L84.38,31.01 L84.51,31.49 L84.65,31.97 L84.77,32.45 L84.90,32.94 L85.03,33.42 L85.15,33.91 L85.27,34.39 L85.39,34.88 L85.51,35.37 L85.62,35.85 L85.73,36.34 L85.84,36.83 L85.95,37.32 L86.06,37.81 L86.16,38.29 L86.26,38.78 L86.37,39.27 L86.47,39.76 L86.56,40.25 L86.66,40.74 L86.76,41.23 L86.85,41.72 L86.94,42.21 L87.04,42.70 L87.13,43.19 L87.22,43.69 L87.31,44.18 L87.39,44.67 L87.48,45.16 L87.57,45.65 L87.65,46.15 L87.74,46.64 L87.82,47.13 L87.91,47.62 L87.99,48.12 L88.08,48.61 L88.16,49.10 L88.24,49.60 L88.32,50.09 L88.41,50.59 L88.49,51.08 L88.57,51.57 L88.65,52.07 L88.73,52.56 L88.81,53.05 L88.90,53.55 L88.98,54.04 L89.06,54.54 L89.14,55.03 L89.22,55.52 L89.31,56.02 L89.39,56.51 L89.48,57.00 L89.56,57.50 L89.65,57.99 L89.73,58.48 L89.82,58.97 L89.90,59.47 L89.99,59.96 L90.08,60.45 L90.17,60.94 L90.26,61.43 L90.35,61.93 L90.44,62.42 L90.53,62.91 L90.62,63.40 L90.71,63.89 L90.80,64.39 L90.89,64.88 L90.98,65.37 L91.07,65.86 L91.16,66.35 L91.25,66.84 L91.34,67.34 L91.43,67.83 L91.52,68.32 L91.61,68.81 L91.71,69.30 L91.80,69.79 L91.89,70.29 L91.98,70.78 L92.07,71.27 L92.16,71.76 L92.25,72.25 L92.35,72.74 L92.44,73.24 L92.53,73.73 L92.62,74.22 L92.71,74.71 L92.80,75.20 L92.89,75.69 L92.98,76.19 L93.08,76.68 L93.17,77.17 L93.26,77.66 L93.35,78.15 L93.44,78.64 L93.53,79.14 L93.62,79.63 L93.71,80.12 L93.80,80.61 L93.89,81.10 L93.98,81.59 L94.07,82.09 L94.16,82.58 L94.25,83.07 L94.34,83.56 L94.42,84.05 L94.51,84.55 L94.60,85.04 L94.69,85.53 L94.78,86.02 L94.86,86.52 L94.95,87.01 L95.04,87.50 L95.12,87.99 L95.21,88.48 L95.30,88.98 L95.38,89.47 L95.47,89.96 L95.55,90.46 L95.64,90.95 L95.72,91.44 L95.80,91.93 L95.89,92.43 L95.97,92.92 L96.05,93.41 L96.13,93.91 L96.22,94.40 L96.30,94.89 L96.38,95.39 L96.46,95.88 L96.54,96.37 L96.63,96.87 L96.71,97.36 L96.79,97.85 L96.87,98.35 L96.95,98.84 L97.03,99.33 L97.11,99.83 L97.19,100.32 L97.27,100.81 L97.35,101.31 L97.44,101.80 L97.52,102.29 L97.60,102.79 L97.68,103.28 L97.76,103.77 L97.84,104.27 L97.92,104.76 L98.00,105.25 L98.09,105.75 L98.17,106.24 L98.25,106.73 L98.33,107.23 L98.42,107.72 L98.50,108.21 L98.58,108.71 L98.66,109.20 L98.75,109.69 L98.83,110.18 L98.91,110.68 L99.00,111.17 L99.08,111.66 L99.16,112.16 L99.25,112.65 L99.33,113.14 L99.41,113.64 L99.49,114.13 L99.57,114.62 L99.66,115.12 L99.74,115.61 L99.82,116.11 L99.90,116.60 L99.98,117.09 L100.07,117.59 L100.15,118.08 L100.23,118.57 L100.31,119.07 L100.40,119.56 L100.48,120.05 L100.56,120.55 L100.65,121.04 L100.73,121.53 L100.82,122.02 L100.90,122.52 L100.99,123.01 L101.08,123.50 L101.17,123.99 L101.26,124.49 L101.34,124.98 L101.44,125.47 L101.53,125.96 L101.62,126.45 L101.71,126.94 L101.81,127.43 L101.90,127.92 L102.00,128.41 L102.09,128.90 L102.19,129.39 L102.29,129.88 L102.39,130.37 L102.49,130.86 L102.59,131.35 L102.70,131.84 L102.80,132.33 L102.91,132.82 L103.01,133.31 L103.12,133.79 L103.23,134.28 L103.34,134.77 L103.45,135.26 L103.56,135.75 L103.67,136.23 L103.78,136.72 L103.90,137.21 L104.01,137.70 L104.13,138.18 L104.24,138.67 L104.36,139.16 L104.48,139.64 L104.60,140.13 L104.72,140.61 L104.84,141.10 L104.96,141.59 L105.08,142.07 L105.21,142.56 L105.33,143.04 L105.45,143.52 L105.58,144.01 L105.71,144.49 L105.84,144.98 L105.96,145.46 L106.09,145.94 L106.22,146.43 L106.36,146.91 L106.49,147.39 L106.62,147.87 L106.76,148.35 L106.89,148.83 L107.03,149.31 L107.17,149.79 L107.31,150.27 L107.45,150.75 L107.59,151.23 L107.74,151.71 L107.88,152.19 L108.03,152.66 L108.18,153.14 L108.33,153.62 L108.48,154.09 L108.64,154.57 L108.79,155.05 L108.95,155.52 L109.11,156.00 L109.27,156.47 L109.43,156.94 L109.59,157.42 L109.75,157.89 L109.92,158.36 L110.08,158.83 L110.25,159.30 L110.42,159.78 L110.59,160.25 L110.76,160.72 L110.93,161.19 L111.10,161.66 L111.28,162.13 L111.45,162.59 L111.63,163.06 L111.81,163.53 L111.98,164.00 L112.17,164.46 L112.35,164.93 L112.53,165.39 L112.72,165.86 L112.91,166.32 L113.10,166.78 L113.29,167.24 L113.49,167.70 L113.69,168.16 L113.89,168.62 L114.09,169.08 L114.29,169.53 L114.50,169.99 L114.71,170.44 L114.92,170.89 L115.13,171.34 L115.35,171.79 L115.57,172.24 L115.79,172.69 L116.02,173.14 L116.24,173.59 L116.47,174.03 L116.70,174.47 L116.93,174.92 L117.17,175.36 L117.41,175.80 L117.65,176.24 L117.89,176.67 L118.13,177.11 L118.38,177.54 L118.63,177.98 L118.88,178.41 L119.14,178.84 L119.39,179.27 L119.65,179.69 L119.91,180.12 L120.18,180.55 L120.45,180.97 L120.72,181.39 L120.99,181.81 L121.26,182.23 L121.54,182.64 L121.82,183.06 L122.10,183.47 L122.39,183.88 L122.67,184.29 L122.97,184.70 L123.26,185.10 L123.56,185.50 L123.86,185.90 L124.16,186.30 L124.47,186.69 L124.78,187.08 L125.10,187.47 L125.41,187.85 L125.74,188.23 L126.07,188.61 L126.40,188.98 L126.74,189.35 L127.08,189.71 L127.43,190.07 L127.78,190.42 L128.14,190.77 L128.50,191.11 L128.87,191.44 L129.24,191.77 L129.62,192.10 L130.00,192.41 L130.39,192.72 L130.79,193.02 L131.19,193.32 L131.59,193.61 L132.00,193.89 L132.42,194.17 L132.84,194.44 L133.26,194.70 L133.69,194.95 L134.12,195.20 L134.56,195.44 L135.00,195.67 L135.44,195.90 L135.89,196.12 L136.34,196.33 L136.80,196.53 L137.26,196.73 L137.72,196.92 L138.18,197.11 L138.64,197.29 L139.11,197.46 L139.58,197.63 L140.05,197.79 L140.53,197.95 L141.00,198.10 L141.48,198.24 L141.96,198.38 L142.44,198.51 L142.93,198.64 L143.41,198.76 L143.90,198.88 L144.38,199.00 L144.87,199.11 L145.36,199.21 L145.85,199.32 L146.34,199.42 L146.83,199.51 L147.32,199.60 L147.81,199.69 L148.30,199.77 L148.80,199.85 L149.29,199.93 L149.78,200.00 L150.28,200.07 L150.77,200.14 L151.27,200.20 L151.77,200.27 L152.26,200.32 L152.76,200.38 L153.26,200.43 L153.75,200.48 L154.25,200.53 L154.75,200.57 L155.25,200.61 L155.75,200.65 L156.25,200.69 L156.75,200.72 L157.24,200.74 L157.74,200.77 L158.24,200.79 L158.74,200.81 L159.24,200.82 L159.74,200.84 L160.24,200.84 L160.74,200.85 L161.24,200.85 L161.74,200.85 L162.24,200.85 L162.74,200.84 L163.24,200.84 L163.74,200.83 L164.24,200.82 L164.74,200.81 L165.24,200.80 L165.74,200.78 L166.24,200.77 L166.74,200.75 L167.24,200.73 L167.74,200.72 L168.24,200.70 L168.74,200.68 L169.24,200.65 L169.74,200.63 L170.24,200.61 L170.73,200.58 L171.23,200.55 L171.73,200.52 L172.23,200.49 L172.73,200.45 L173.23,200.42 L173.73,200.38 L174.23,200.34 L174.72,200.30 L175.22,200.26 L175.72,200.21 L176.22,200.17 L176.72,200.12 L177.21,200.08 L177.71,200.03 L178.21,199.98 L178.71,199.93 L179.21,199.89 L179.70,199.84 L180.20,199.79 L180.70,199.74 L181.20,199.70 L181.70,199.65 L182.19,199.60 L182.69,199.55 L183.19,199.51 L183.69,199.46 L184.18,199.41 L184.68,199.36 L185.18,199.32 L185.68,199.27 L186.18,199.22 L186.67,199.17 L187.17,199.12 L187.67,199.07 L188.17,199.01 L188.66,198.96 L189.16,198.91 L189.66,198.85 L190.15,198.79 L190.65,198.73 L191.14,198.67 L191.64,198.61 L192.14,198.54 L192.63,198.48 L193.13,198.41 L193.62,198.34 L194.11,198.26 L194.61,198.19 L195.10,198.11 L195.60,198.04 L196.09,197.96 L196.58,197.88 L197.08,197.80 L197.57,197.71 L198.06,197.63 L198.56,197.55 L199.05,197.46 L199.54,197.38 L200.04,197.29 L200.53,197.21 L201.02,197.12 L201.51,197.04 L202.01,196.95 L202.50,196.86 L202.99,196.78 L203.48,196.69 L203.98,196.60 L204.47,196.51 L204.96,196.42 L205.45,196.34 L205.94,196.25 L206.44,196.16 L206.93,196.07 L207.42,195.97 L207.91,195.88 L208.40,195.79 L208.89,195.70 L209.38,195.60 L209.88,195.51 L210.37,195.41 L210.86,195.31 L211.35,195.21 L211.84,195.11 L212.33,195.01 L212.82,194.91 L213.30,194.81 L213.79,194.71 L214.28,194.60 L214.77,194.49 L215.26,194.39 L215.75,194.28 L216.23,194.17 L216.72,194.06 L217.21,193.95 L217.70,193.83 L218.18,193.72 L218.67,193.61 L219.16,193.49 L219.64,193.38 L220.13,193.26 L220.62,193.14 L221.10,193.03 L221.59,192.91 L222.08,192.79 L222.56,192.68 L223.05,192.56 L223.53,192.44 L224.02,192.32 L224.51,192.21 L224.99,192.09 L225.48,191.97 L225.96,191.85 L226.45,191.74 L226.94,191.62 L227.42,191.51 L227.91,191.39 L228.40,191.28 L228.88,191.16 L229.37,191.05 L229.86,190.94 L230.34,190.82 L230.83,190.71 L231.32,190.61 L231.81,190.50 L232.30,190.39 L232.79,190.29 L233.28,190.19 L233.76,190.08 L234.25,189.99 L234.74,189.89 L235.24,189.79 L235.73,189.70 L236.22,189.61 L236.71,189.51 L237.20,189.42 L237.69,189.34 L238.19,189.25 L238.68,189.16 L239.17,189.08 L239.66,189.00 L240.16,188.92 L240.65,188.83 L241.14,188.76 L241.64,188.68 L242.13,188.60 L242.63,188.52 L243.12,188.45 L243.62,188.37 L244.11,188.30 L244.60,188.23 L245.10,188.16 L245.59,188.09 L246.09,188.02 L246.58,187.95 L247.08,187.88 L247.58,187.81 L248.07,187.75 L248.57,187.68 L249.06,187.62 L249.56,187.55 L250.05,187.49 L250.55,187.43 L251.05,187.37 L251.54,187.31 L252.04,187.25 L252.54,187.19 L253.03,187.13 L253.53,187.08 L254.03,187.02 L254.52,186.97 L255.02,186.91 L255.52,186.86 L256.02,186.81 L256.51,186.76 L257.01,186.71 L257.51,186.66 L258.01,186.61 L258.50,186.56 L259.00,186.51 L259.50,186.47 L260.00,186.42 L260.50,186.38 L260.99,186.33 L261.49,186.29 L261.99,186.25 L262.49,186.21 L262.99,186.17 L263.49,186.13 L263.98,186.09 L264.48,186.05 L264.98,186.01 L265.48,185.98 L265.98,185.94 L266.48,185.91 L266.98,185.87 L267.47,185.84 L267.97,185.81 L268.47,185.77 L268.97,185.74 L269.47,185.71 L269.97,185.68 L270.47,185.65 L270.97,185.63 L271.47,185.60 L271.97,185.57 L272.47,185.55 L272.97,185.53 L273.47,185.51 L273.97,185.49 L274.47,185.47 L274.96,185.45 L275.46,185.44 L275.96,185.42 L276.46,185.41 L276.96,185.40 L277.46,185.39 L277.96,185.38 L278.46,185.37 L278.96,185.36 L279.46,185.35 L279.96,185.35 L280.46,185.34 L280.96,185.33 L281.46,185.33 L281.96,185.33 L282.46,185.32 L282.96,185.32 L283.46,185.32 L283.96,185.32 L284.46,185.32 L284.96,185.32 L285.46,185.32 L285.96,185.32 L286.46,185.32 L286.96,185.32 L287.46,185.33 L287.96,185.33 L288.46,185.34 L288.96,185.34 L289.46,185.35 L289.96,185.36 L290.46,185.37 L290.96,185.37 L291.46,185.38 L291.96,185.39 L292.46,185.40 L292.96,185.41 L293.46,185.42 L293.96,185.43 L294.46,185.44 L294.96,185.46 L295.46,185.47 L295.96,185.48 L296.46,185.49 L296.96,185.51 L297.46,185.52 L297.96,185.53 L298.46,185.55 L298.96,185.56 L299.46,185.57 L299.96,185.59 L300.46,185.61 L300.96,185.62 L301.46,185.64 L301.96,185.65 L302.46,185.67 L302.96,185.69 L303.46,185.71 L303.96,185.73 L304.46,185.74 L304.96,185.76 L305.46,185.78 L305.96,185.80 L306.46,185.82 L306.96,185.84 L307.45,185.86 L307.95,185.88 L308.45,185.90 L308.95,185.92 L309.45,185.94 L309.95,185.96 L310.45,185.98 L310.95,186.00 L311.45,186.02 L311.95,186.04 L312.45,186.06 L312.95,186.08 L313.45,186.10 L313.95,186.12 L314.45,186.14 L314.95,186.16 L315.45,186.18 L315.95,186.20 L316.45,186.22 L316.95,186.24 L317.45,186.26 L317.95,186.28 L318.45,186.30 L318.95,186.32 L319.45,186.34 L319.94,186.36 L320.44,186.38 L320.94,186.40 L321.44,186.43 L321.94,186.45 L322.44,186.47 L322.94,186.49 L323.44,186.51 L323.94,186.53 L324.44,186.55 L324.94,186.57 L325.44,186.59 L325.94,186.61 L326.44,186.63 L326.94,186.66 L327.44,186.68 L327.94,186.70 L328.44,186.72 L328.94,186.74 L329.44,186.76 L329.94,186.78 L330.44,186.80 L330.93,186.82 L331.43,186.84 L331.93,186.86 L332.43,186.88 L332.93,186.90 L333.42,186.93 L333.91,186.95 L334.41,186.97 L334.90,186.99 L335.38,187.01 L335.87,187.03 L336.35,187.05 L336.83,187.07 L337.32,187.09 L337.80,187.11 L338.29,187.13 L338.80,187.15 L339.32,187.17 L339.86,187.19 L340.00,187.20" stroke="#0000ff"/>
</g>
<g font-size="11.5px" fill="#000"><text transform="translate(39.00,226.2) scale(0.96,1)" text-anchor="middle" font-size="11.5px">20</text><text transform="translate(76.62,226.2) scale(0.96,1)" text-anchor="middle" font-size="11.5px">30</text><text transform="translate(114.25,226.2) scale(0.96,1)" text-anchor="middle" font-size="11.5px">40</text><text transform="translate(151.88,226.2) scale(0.96,1)" text-anchor="middle" font-size="11.5px">50</text><text transform="translate(189.50,226.2) scale(0.96,1)" text-anchor="middle" font-size="11.5px">60</text><text transform="translate(227.12,226.2) scale(0.96,1)" text-anchor="middle" font-size="11.5px">70</text><text transform="translate(264.75,226.2) scale(0.96,1)" text-anchor="middle" font-size="11.5px">80</text><text transform="translate(302.38,226.2) scale(0.96,1)" text-anchor="middle" font-size="11.5px">90</text><text transform="translate(340.00,226.2) scale(0.96,1)" text-anchor="middle" font-size="11.5px">100</text><text transform="translate(34.9,216.70) scale(0.96,1)" text-anchor="end" font-size="11.5px" letter-spacing="0.2px">0.0</text><text transform="translate(34.9,168.08) scale(0.96,1)" text-anchor="end" font-size="11.5px" letter-spacing="0.2px">0.2</text><text transform="translate(34.9,119.46) scale(0.96,1)" text-anchor="end" font-size="11.5px" letter-spacing="0.2px">0.4</text><text transform="translate(34.9,70.84) scale(0.96,1)" text-anchor="end" font-size="11.5px" letter-spacing="0.2px">0.6</text><text transform="translate(34.9,22.22) scale(0.96,1)" text-anchor="end" font-size="11.5px" letter-spacing="0.2px">0.8</text></g>
<text transform="translate(170.2,243.2) scale(0.95,1)" font-size="13.9px" word-spacing="1.8px"><tspan font-style="italic">E</tspan> [MeV]</text>
<text transform="translate(13.7,130.7) rotate(-90) scale(0.925,1)" font-size="13.9px">σ(<tspan font-style="italic">E</tspan>) [mb]</text>
<text transform="translate(207.2,34.1) scale(0.9,1)" font-size="15px"><tspan font-size="8.3px" dy="-6.7">27</tspan><tspan dy="6.7">Al(γ</tspan><tspan dx="-0.5">,</tspan><tspan font-style="italic" dx="-0.6">x</tspan>)<tspan font-size="8.3px" dy="-6.7">22</tspan><tspan dy="6.7">Na</tspan></text>
<g font-size="12.5px">
<text transform="translate(87.7,23.4) scale(0.927,1)" fill="#0000ff"><tspan font-style="italic">LD</tspan>6</text>
<text transform="translate(93.4,51.7) scale(0.927,1)" fill="#008000"><tspan font-style="italic">LD</tspan>5</text>
<text transform="translate(101.0,83.1) scale(0.927,1)" fill="#000"><tspan font-style="italic">LD</tspan>4</text>
<text transform="translate(107.5,116.9) scale(0.927,1)" fill="#800000"><tspan font-style="italic">LD</tspan>2</text>
<text transform="translate(116,142.3) scale(0.927,1)" fill="#ff0000"><tspan font-style="italic">LD</tspan>3</text>
<text transform="translate(75.1,189.8) scale(0.927,1)" fill="#8000ff"><tspan font-style="italic">LD</tspan>1</text>
</g>
</svg>
</body></html>
